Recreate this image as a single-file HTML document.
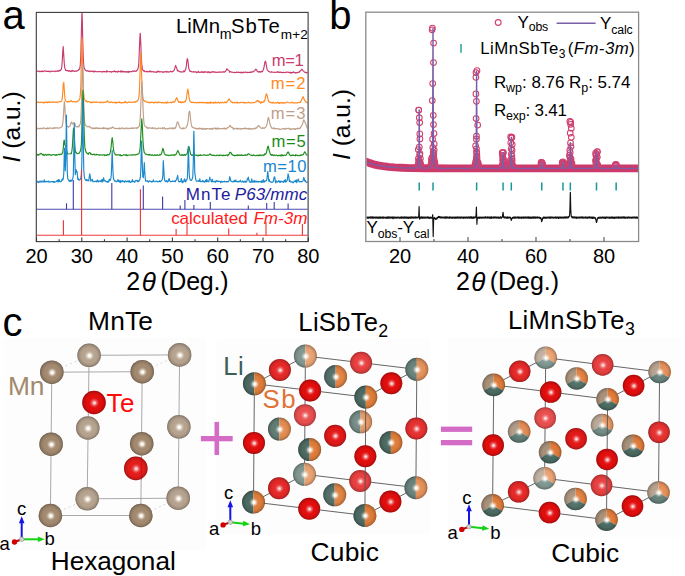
<!DOCTYPE html>
<html><head><meta charset="utf-8"><style>
html,body{margin:0;padding:0;background:#fff;width:685px;height:576px;overflow:hidden}
svg{display:block}
text{font-family:"Liberation Sans", sans-serif}
</style></head><body>
<svg width="685" height="576" viewBox="0 0 685 576">
<defs>
<clipPath id="clipA"><rect x="36.8" y="12.9" width="270.8" height="228.2"/></clipPath>
<clipPath id="clipB"><rect x="366.4" y="12.8" width="271.6" height="228.1"/></clipPath>
<radialGradient id="shade" cx="0.5" cy="0.5" r="0.5" fx="0.52" fy="0.52">
<stop offset="0" stop-color="#fff" stop-opacity="1"/>
<stop offset="0.1" stop-color="#fff" stop-opacity="0.95"/>
<stop offset="0.2" stop-color="#fff6e8" stop-opacity="0.6"/>
<stop offset="0.32" stop-color="#fff" stop-opacity="0.15"/>
<stop offset="0.45" stop-color="#fff" stop-opacity="0"/>
<stop offset="0.64" stop-color="#000" stop-opacity="0"/>
<stop offset="0.86" stop-color="#000" stop-opacity="0.12"/>
<stop offset="0.95" stop-color="#000" stop-opacity="0.24"/>
<stop offset="1" stop-color="#000" stop-opacity="0.32"/>
</radialGradient>
<radialGradient id="shadeTe" cx="0.5" cy="0.5" r="0.5" fx="0.52" fy="0.52">
<stop offset="0" stop-color="#fff" stop-opacity="0.9"/>
<stop offset="0.1" stop-color="#fff" stop-opacity="0.75"/>
<stop offset="0.22" stop-color="#ffe0e0" stop-opacity="0.35"/>
<stop offset="0.36" stop-color="#fff" stop-opacity="0.06"/>
<stop offset="0.46" stop-color="#fff" stop-opacity="0"/>
<stop offset="0.64" stop-color="#000" stop-opacity="0"/>
<stop offset="0.86" stop-color="#000" stop-opacity="0.12"/>
<stop offset="0.95" stop-color="#000" stop-opacity="0.24"/>
<stop offset="1" stop-color="#000" stop-opacity="0.34"/>
</radialGradient>
</defs>
<g clip-path="url(#clipA)">
<path d="M36.3,71.2 L36.8,71.4 L38.3,71.0 L39.3,71.6 L39.8,71.4 L40.3,71.6 L40.8,71.4 L41.8,71.4 L42.3,70.8 L42.8,71.6 L43.8,71.4 L44.3,70.8 L44.8,70.8 L46.3,71.4 L46.8,71.3 L47.3,71.5 L47.8,71.1 L48.3,71.4 L48.8,71.4 L49.3,71.1 L49.8,71.8 L50.3,71.5 L50.8,71.7 L51.3,71.1 L51.8,71.1 L52.8,71.2 L53.3,71.5 L54.8,71.0 L55.3,71.1 L55.8,71.6 L56.3,71.0 L56.8,71.2 L57.3,71.3 L57.8,70.7 L58.8,71.4 L59.3,70.3 L59.8,70.6 L60.3,70.5 L61.3,69.4 L61.8,66.8 L62.3,60.2 L62.8,51.1 L63.2,46.5 L64.3,63.8 L64.8,68.1 L65.8,70.5 L66.3,70.4 L66.8,70.6 L67.3,70.5 L68.3,70.9 L68.8,71.5 L69.3,70.5 L69.8,70.7 L70.8,71.6 L71.3,71.4 L71.8,70.6 L72.3,70.4 L72.8,71.3 L73.3,70.9 L73.8,70.8 L74.3,71.4 L74.8,71.4 L75.3,71.1 L76.3,71.0 L76.8,71.2 L77.3,70.8 L78.3,70.3 L78.8,69.3 L79.3,69.5 L79.8,68.2 L80.3,65.1 L80.8,55.7 L81.8,16.2 L82.0,12.4 L82.3,19.2 L82.8,42.5 L83.3,58.4 L83.8,66.3 L84.3,68.4 L84.8,69.2 L85.3,70.0 L85.8,70.5 L86.3,70.6 L86.8,71.1 L87.3,70.7 L87.8,70.9 L88.3,71.4 L89.3,70.9 L89.8,71.5 L90.3,71.7 L90.8,71.2 L91.3,70.9 L91.8,71.3 L92.8,71.3 L93.3,71.8 L93.8,71.1 L94.3,71.8 L94.8,71.1 L95.3,71.2 L95.8,71.7 L96.3,71.8 L97.8,71.5 L98.8,71.7 L99.3,71.5 L100.3,71.7 L100.8,71.5 L101.3,71.8 L101.8,71.7 L102.3,72.2 L102.8,71.7 L103.3,71.4 L104.3,71.6 L104.8,71.8 L105.3,71.5 L105.8,71.7 L106.3,72.1 L106.8,70.8 L107.8,71.7 L108.8,71.7 L109.3,71.5 L109.8,71.8 L110.8,71.5 L111.3,72.3 L111.8,71.7 L112.3,71.5 L112.8,71.6 L113.8,71.6 L114.3,70.8 L115.3,71.9 L115.8,71.3 L116.8,71.9 L117.3,71.9 L117.8,72.1 L118.3,71.1 L118.8,71.5 L119.3,71.5 L120.3,72.0 L120.8,70.8 L121.3,72.0 L121.8,71.2 L122.3,71.8 L122.8,71.2 L123.8,72.0 L124.3,71.6 L125.3,71.9 L126.3,71.6 L126.8,72.1 L127.3,71.9 L127.8,71.5 L128.3,72.4 L128.8,71.3 L129.3,71.9 L129.8,71.5 L130.8,71.8 L131.3,71.6 L131.8,71.7 L132.3,71.0 L132.8,71.0 L133.3,71.6 L133.8,71.1 L134.8,70.8 L135.3,71.5 L135.8,71.2 L136.3,71.2 L136.8,70.2 L137.3,70.1 L138.3,67.6 L138.8,63.0 L139.8,39.2 L140.2,33.4 L140.3,33.4 L140.8,43.6 L141.3,57.6 L141.8,64.9 L142.3,68.2 L142.8,69.8 L143.8,71.1 L144.3,70.6 L144.8,71.4 L145.3,71.7 L145.8,71.8 L146.3,71.3 L146.8,71.2 L147.3,71.8 L147.8,71.6 L148.3,71.6 L148.8,72.0 L149.8,71.0 L150.3,71.6 L150.8,71.1 L151.3,72.0 L152.3,71.5 L153.3,72.0 L153.8,71.8 L154.3,72.2 L154.8,71.8 L155.3,72.1 L156.3,72.3 L156.8,71.6 L157.3,72.1 L157.8,71.2 L158.3,71.5 L158.8,71.2 L159.3,72.1 L159.8,71.5 L160.3,71.8 L161.3,71.8 L161.8,71.7 L162.3,71.9 L162.8,72.4 L163.3,71.9 L164.3,72.1 L165.3,71.5 L165.8,71.7 L166.3,72.2 L166.8,71.3 L167.8,72.1 L168.3,72.1 L168.8,71.8 L169.3,72.1 L169.8,71.8 L170.3,71.4 L170.8,71.3 L171.8,72.0 L172.3,71.5 L173.3,71.1 L174.3,69.8 L175.7,65.4 L175.8,66.3 L176.3,67.1 L176.8,68.4 L177.3,70.5 L177.8,71.0 L178.3,70.7 L179.3,71.7 L179.8,71.5 L180.3,71.9 L181.8,71.8 L182.3,72.1 L183.3,71.7 L183.8,70.8 L184.3,71.6 L184.8,71.4 L185.8,68.8 L186.3,66.5 L186.8,61.1 L187.3,58.6 L187.4,59.1 L187.8,59.7 L188.8,68.5 L189.8,71.0 L190.3,71.5 L190.8,71.2 L191.3,71.6 L192.3,72.0 L193.8,71.6 L194.8,72.2 L195.8,71.7 L196.3,71.7 L196.8,72.8 L197.3,72.3 L197.8,72.2 L198.3,71.2 L198.8,72.2 L199.3,72.2 L199.8,72.5 L200.3,72.2 L200.8,72.0 L201.3,72.2 L201.8,71.5 L202.3,72.4 L203.3,71.8 L203.8,72.5 L204.3,72.6 L204.8,71.6 L205.8,72.2 L206.3,72.1 L207.3,71.8 L207.8,72.7 L208.3,72.4 L208.8,71.7 L209.3,71.7 L209.8,72.6 L210.3,72.4 L210.8,72.6 L211.8,71.8 L212.3,72.2 L212.8,71.5 L213.3,71.9 L214.3,72.3 L214.8,71.9 L215.8,72.3 L216.8,72.3 L217.8,72.0 L218.3,72.4 L219.3,71.9 L220.3,72.1 L222.3,72.1 L222.8,72.0 L223.3,71.7 L223.8,72.1 L224.3,72.2 L225.8,71.0 L226.8,68.9 L227.2,69.3 L227.3,69.0 L227.8,70.0 L228.8,70.3 L229.8,72.3 L230.3,71.8 L230.8,71.6 L231.8,72.3 L232.8,72.2 L233.3,72.6 L234.3,72.2 L235.3,72.7 L235.8,72.5 L236.3,72.5 L236.8,71.9 L237.8,72.4 L238.3,72.1 L238.8,72.5 L239.3,72.4 L239.8,72.5 L240.3,72.2 L240.8,73.0 L241.8,72.2 L242.3,72.3 L242.8,73.0 L243.3,72.1 L243.8,72.5 L244.3,72.5 L245.3,71.9 L245.8,72.3 L246.3,72.4 L246.8,72.6 L247.8,72.2 L248.3,72.5 L250.3,72.1 L250.8,72.4 L251.3,71.9 L252.3,72.1 L252.8,71.6 L253.3,71.8 L253.8,71.0 L254.3,71.0 L254.8,70.6 L255.8,69.2 L256.8,70.0 L257.3,71.7 L257.8,71.7 L258.3,72.2 L258.8,71.7 L259.3,71.9 L259.8,71.4 L260.3,72.2 L260.8,72.2 L261.3,71.3 L261.8,71.7 L262.3,71.7 L263.3,69.7 L263.8,68.3 L264.8,62.7 L265.3,61.1 L265.4,61.1 L265.8,62.2 L266.8,68.2 L267.3,70.1 L267.8,70.5 L268.3,71.3 L269.3,71.6 L269.8,72.0 L270.8,72.3 L271.3,71.7 L271.8,71.8 L272.3,72.2 L273.8,72.3 L274.3,72.1 L274.8,72.5 L276.3,72.2 L276.8,72.3 L277.3,71.6 L277.8,72.1 L278.3,72.4 L278.8,71.9 L279.3,72.5 L279.8,72.5 L280.3,72.0 L280.8,72.3 L281.3,72.3 L281.8,72.6 L282.3,72.6 L283.3,72.2 L284.8,72.7 L286.3,72.1 L286.8,72.3 L287.8,72.1 L288.3,72.4 L288.8,72.3 L289.8,72.6 L290.3,72.3 L290.8,73.2 L291.3,72.4 L291.8,72.8 L292.3,72.5 L292.8,72.8 L293.3,71.8 L294.3,72.5 L294.8,72.6 L295.3,73.1 L295.8,72.5 L296.3,72.8 L296.8,72.6 L297.3,72.7 L298.3,72.2 L298.8,72.3 L299.3,71.6 L299.8,71.8 L300.3,70.6 L300.8,70.3 L301.3,70.2 L301.8,69.2 L302.3,69.6 L302.8,70.6 L303.8,71.3 L304.3,72.0 L304.8,72.3 L305.3,72.5 L305.8,72.1 L306.3,72.9 L306.8,73.0 L307.3,72.5 L307.8,72.6" fill="none" stroke="#c93a6f" stroke-width="1.15" stroke-linejoin="round" />
<path d="M36.3,102.1 L36.8,102.7 L37.3,102.1 L37.8,102.5 L38.3,102.1 L38.8,102.1 L39.3,102.5 L39.8,102.7 L40.3,102.3 L40.8,102.1 L41.3,102.5 L41.8,102.3 L42.3,102.4 L42.8,102.7 L43.3,102.6 L43.8,102.1 L44.3,103.0 L44.8,102.3 L45.3,102.5 L45.8,102.1 L46.3,102.3 L46.8,101.8 L47.3,102.8 L47.8,102.7 L48.3,101.9 L48.8,101.8 L49.3,101.8 L49.8,102.6 L50.3,102.1 L50.8,102.2 L51.8,102.2 L52.3,101.9 L52.8,102.3 L53.3,101.8 L53.8,102.2 L54.8,102.4 L55.8,101.9 L56.3,102.2 L56.8,102.0 L57.3,102.6 L58.3,102.0 L59.8,101.6 L60.8,101.6 L61.3,101.3 L61.8,100.5 L62.3,98.5 L63.3,84.1 L63.6,82.8 L63.8,82.4 L64.8,97.1 L65.3,100.0 L65.8,101.1 L66.8,101.8 L67.3,101.8 L67.8,102.1 L68.3,101.3 L69.3,101.8 L70.3,101.0 L70.8,101.1 L71.2,100.5 L71.3,100.9 L72.8,101.9 L73.3,101.8 L73.8,101.5 L74.3,101.9 L74.8,102.0 L75.3,101.7 L76.3,101.9 L76.8,101.3 L77.8,101.8 L78.3,100.7 L78.8,100.5 L79.8,98.9 L80.3,95.2 L80.8,86.0 L81.8,41.2 L82.0,38.0 L82.3,44.4 L82.8,70.6 L83.3,88.6 L83.8,95.6 L84.3,99.0 L85.3,100.7 L85.8,101.1 L86.3,100.9 L87.3,102.1 L87.8,101.6 L88.8,101.5 L89.3,101.6 L90.3,102.6 L90.8,102.3 L91.3,102.2 L91.8,102.9 L92.3,102.1 L92.8,102.0 L93.3,102.4 L93.8,102.4 L94.3,102.0 L94.8,101.9 L95.3,102.4 L95.8,102.4 L96.3,101.9 L96.8,102.3 L97.3,102.2 L97.8,102.5 L98.3,102.3 L99.3,102.2 L99.8,102.7 L100.3,102.8 L100.8,102.2 L101.3,102.6 L101.8,102.1 L103.3,102.8 L103.8,102.2 L104.8,102.4 L105.3,101.9 L105.8,102.3 L106.3,101.9 L106.8,101.8 L107.5,100.7 L107.8,101.4 L108.3,101.9 L108.8,102.0 L109.3,102.6 L109.8,102.3 L110.3,102.2 L110.8,102.5 L111.3,101.9 L112.8,102.7 L113.3,102.4 L113.8,102.5 L114.3,102.2 L115.3,102.9 L115.8,102.2 L116.3,103.1 L116.8,102.2 L117.8,102.5 L118.3,102.7 L118.8,102.0 L119.3,101.8 L119.8,102.6 L120.8,102.6 L121.3,103.2 L121.8,102.5 L122.3,102.5 L122.8,102.7 L123.3,102.5 L123.8,102.9 L124.3,102.0 L124.8,102.3 L125.3,101.4 L125.8,102.6 L126.3,102.3 L127.3,103.0 L127.8,102.4 L129.3,102.1 L129.8,102.1 L130.3,102.5 L130.8,102.3 L131.8,102.2 L132.3,102.5 L133.3,102.1 L133.8,102.3 L134.8,101.6 L135.3,102.3 L136.3,101.3 L136.8,101.6 L137.3,101.1 L137.8,100.0 L138.3,100.0 L138.8,97.6 L139.3,92.6 L139.8,81.0 L140.3,63.6 L140.8,52.5 L142.3,92.3 L142.8,97.6 L143.3,99.6 L143.8,100.7 L144.3,100.9 L144.8,101.3 L145.3,100.9 L145.8,101.6 L146.8,102.4 L147.3,102.0 L147.8,102.1 L148.3,102.7 L148.8,102.1 L149.8,102.8 L150.3,102.3 L150.8,102.7 L151.3,102.1 L151.8,102.4 L152.8,102.4 L153.8,103.1 L154.3,102.2 L154.8,102.3 L155.3,102.6 L155.8,102.1 L156.3,102.6 L156.8,102.6 L157.3,102.4 L157.8,102.6 L158.3,102.0 L158.8,102.7 L159.3,102.0 L159.8,102.3 L160.8,102.4 L161.3,102.8 L162.3,102.4 L163.3,103.0 L163.8,102.5 L164.8,102.9 L165.8,102.1 L166.3,103.3 L166.8,103.2 L167.3,101.9 L167.8,102.5 L168.8,102.8 L169.3,102.7 L170.3,102.2 L171.3,102.8 L171.8,102.1 L172.3,102.1 L172.8,102.4 L173.3,101.7 L173.8,102.2 L174.8,101.8 L176.3,98.2 L176.8,97.7 L178.3,101.6 L178.8,102.3 L179.3,101.9 L179.8,102.1 L180.3,101.5 L180.8,102.9 L181.3,102.1 L182.3,102.5 L182.8,101.9 L183.3,102.4 L183.8,102.1 L184.3,101.5 L184.8,102.0 L185.3,101.9 L185.8,100.2 L186.3,99.3 L187.3,91.5 L187.8,89.0 L188.3,91.7 L189.3,99.3 L190.3,101.8 L190.8,101.7 L191.3,102.1 L191.8,102.7 L193.3,102.1 L193.8,102.2 L194.8,102.8 L196.3,102.5 L196.8,103.0 L197.3,102.4 L197.8,102.4 L198.3,102.8 L198.8,102.6 L199.8,102.4 L200.8,102.8 L201.3,102.7 L201.8,102.2 L202.3,102.7 L202.8,102.7 L203.3,102.3 L203.8,102.9 L204.3,102.5 L204.8,102.5 L205.3,102.9 L205.8,103.0 L206.3,102.4 L206.8,102.8 L207.3,102.4 L207.8,103.3 L208.3,102.5 L208.8,103.0 L209.3,102.5 L210.3,103.3 L210.8,101.9 L211.3,102.5 L211.8,102.8 L212.8,102.5 L213.3,103.3 L214.3,102.2 L214.8,102.9 L215.3,102.1 L215.8,103.0 L216.3,102.5 L217.3,103.0 L218.3,102.2 L218.8,102.1 L219.3,103.0 L219.8,102.9 L220.3,102.4 L220.8,102.9 L221.8,102.8 L222.3,102.0 L222.8,102.5 L223.3,102.9 L224.3,102.8 L224.8,101.8 L225.3,102.5 L225.8,102.6 L226.3,103.0 L226.8,101.7 L227.3,101.4 L228.3,100.1 L228.8,99.0 L229.0,99.4 L229.3,99.0 L229.8,100.1 L230.8,101.7 L231.3,101.9 L231.8,101.8 L232.3,102.8 L233.3,102.4 L234.3,102.9 L234.8,102.3 L235.8,102.8 L236.3,102.8 L236.8,102.6 L237.3,102.0 L237.8,103.1 L238.3,102.8 L239.3,102.6 L239.8,102.8 L240.8,102.4 L242.3,102.5 L242.8,102.4 L243.3,102.9 L243.8,102.3 L244.3,102.9 L244.8,102.4 L245.8,103.1 L246.8,102.5 L247.3,102.7 L247.8,102.8 L248.3,102.2 L249.3,102.8 L249.8,102.6 L250.8,102.9 L251.8,103.0 L252.8,102.6 L253.3,102.6 L254.8,102.4 L255.3,101.8 L255.8,102.0 L256.3,101.6 L256.8,100.7 L257.3,100.5 L257.5,100.6 L257.8,100.5 L258.3,101.7 L258.8,100.9 L259.3,102.0 L259.8,101.8 L260.3,102.7 L260.8,103.3 L261.3,101.7 L261.8,102.5 L262.3,102.5 L262.8,102.2 L263.3,102.3 L263.8,101.2 L264.3,101.6 L264.8,100.3 L265.8,95.8 L266.5,93.8 L266.8,94.5 L267.8,98.1 L268.3,100.5 L268.8,101.6 L269.3,102.2 L269.8,102.0 L270.8,102.7 L271.3,102.6 L272.3,103.2 L272.8,102.4 L273.3,102.1 L273.8,102.9 L274.3,103.2 L275.3,103.0 L275.8,102.6 L276.3,102.5 L276.8,103.0 L277.3,102.5 L277.8,102.2 L278.3,102.5 L278.8,103.5 L279.3,103.4 L279.8,102.6 L280.3,102.6 L280.8,102.9 L281.3,102.6 L281.8,103.2 L282.8,102.5 L283.3,103.2 L283.8,102.6 L284.3,102.9 L285.3,102.7 L285.8,102.9 L286.8,102.3 L287.3,102.1 L288.8,102.8 L289.8,103.0 L290.8,102.6 L291.3,102.6 L291.8,102.2 L292.3,102.7 L292.8,102.9 L294.3,102.7 L294.8,103.0 L295.3,102.8 L295.8,103.0 L296.8,102.8 L297.3,103.1 L297.8,102.5 L298.3,102.5 L299.3,102.2 L299.8,102.7 L300.3,102.4 L300.8,101.3 L301.3,100.5 L302.3,98.2 L302.8,97.4 L303.0,96.6 L303.3,97.0 L304.3,99.9 L305.8,101.9 L306.8,102.2 L307.3,103.0 L307.8,102.4" fill="none" stroke="#ff8a22" stroke-width="1.15" stroke-linejoin="round" />
<path d="M36.3,128.3 L36.8,129.0 L38.3,128.1 L39.3,128.8 L39.8,128.5 L40.3,128.7 L40.8,128.3 L41.3,128.4 L41.8,128.2 L42.8,128.7 L43.3,127.8 L43.8,128.2 L44.3,128.3 L44.8,128.1 L45.3,128.2 L46.3,129.0 L46.8,128.5 L47.3,128.4 L47.8,127.7 L48.3,128.9 L48.8,128.3 L49.3,128.2 L49.8,127.9 L50.3,128.2 L50.8,127.9 L51.3,128.3 L51.8,128.4 L52.3,128.2 L52.8,128.3 L53.3,127.9 L53.8,128.7 L54.3,128.0 L54.8,127.5 L55.3,128.1 L56.3,127.8 L57.3,128.2 L57.8,127.6 L58.8,128.4 L59.8,127.7 L60.3,127.7 L61.8,127.0 L62.3,125.8 L62.8,122.7 L63.3,118.2 L63.8,109.0 L64.4,101.5 L64.8,105.6 L65.3,115.7 L65.8,121.4 L66.3,124.7 L66.8,125.9 L67.3,126.0 L67.8,126.4 L68.3,127.3 L68.8,127.0 L69.3,126.4 L70.3,125.7 L70.8,123.6 L71.3,122.2 L71.6,122.0 L72.3,123.7 L72.8,124.2 L73.3,123.6 L73.8,122.6 L74.3,122.7 L74.8,123.4 L75.3,125.4 L75.8,126.5 L76.3,126.9 L76.8,126.9 L77.3,126.6 L77.8,126.8 L78.3,126.2 L78.8,126.8 L79.3,126.1 L79.8,124.7 L80.3,124.0 L80.8,120.0 L81.3,109.3 L82.3,68.9 L82.6,63.6 L82.8,65.1 L83.8,107.1 L84.3,118.5 L84.8,123.2 L85.3,125.3 L85.8,125.4 L86.3,126.0 L87.3,126.8 L88.3,126.9 L89.2,126.4 L89.3,126.1 L89.8,126.6 L90.3,127.6 L90.8,127.9 L91.8,127.9 L92.3,128.6 L92.8,127.9 L93.3,128.4 L93.8,128.6 L94.3,128.1 L94.8,128.5 L95.3,127.8 L95.8,128.6 L96.3,128.3 L96.8,127.7 L97.3,128.5 L97.8,128.0 L98.3,128.8 L98.8,128.1 L99.8,128.4 L100.3,128.2 L100.8,128.4 L101.3,128.2 L101.8,128.6 L102.3,128.4 L102.8,128.4 L103.3,127.4 L103.8,128.8 L104.3,128.4 L104.8,127.8 L105.3,128.4 L106.3,128.8 L106.8,128.0 L107.3,128.9 L107.8,128.3 L108.3,129.2 L108.8,128.3 L109.3,128.6 L110.3,127.8 L110.8,128.4 L111.3,128.1 L111.8,127.9 L112.2,127.5 L112.3,127.0 L112.8,126.9 L113.3,127.7 L113.8,127.9 L114.3,128.0 L114.8,128.6 L115.8,128.3 L116.3,128.5 L116.8,128.4 L118.3,128.8 L118.8,128.2 L119.3,127.9 L119.8,128.9 L120.3,128.5 L120.8,128.8 L121.3,127.9 L121.8,128.3 L122.3,128.4 L122.8,127.9 L123.8,128.7 L124.8,129.0 L125.3,128.1 L125.8,127.9 L126.3,128.6 L126.8,128.7 L127.3,128.5 L127.8,127.9 L128.3,128.7 L128.8,128.7 L129.3,128.6 L129.8,128.2 L130.8,128.6 L131.8,127.6 L132.3,128.4 L132.8,128.4 L133.3,128.2 L133.8,128.5 L134.3,127.9 L134.8,128.0 L135.3,127.9 L136.3,128.4 L136.8,127.6 L137.3,128.2 L137.8,127.8 L139.3,125.9 L139.8,123.0 L140.3,117.9 L141.3,93.1 L141.9,81.7 L142.3,87.3 L143.3,114.6 L143.8,121.0 L144.3,125.0 L144.8,125.8 L145.8,126.8 L146.3,127.1 L146.8,127.9 L147.3,128.2 L147.8,127.4 L148.3,128.3 L148.8,128.4 L149.8,127.7 L150.3,128.0 L150.8,128.1 L151.3,128.4 L151.8,128.2 L152.3,127.6 L152.8,128.5 L153.3,127.9 L153.8,128.7 L154.3,128.0 L154.8,128.2 L155.3,128.1 L155.8,128.3 L156.3,128.9 L157.8,128.6 L158.3,127.9 L158.8,128.3 L159.8,128.2 L160.3,128.7 L160.8,128.2 L161.8,128.1 L162.3,127.7 L162.9,128.9 L164.3,127.5 L164.8,128.6 L165.3,128.9 L165.8,128.6 L166.8,129.0 L167.3,128.9 L167.8,128.4 L168.3,128.9 L168.8,128.8 L169.3,128.0 L169.8,128.3 L170.3,128.0 L170.8,128.4 L171.3,128.7 L171.8,128.1 L172.3,127.7 L172.8,128.8 L173.3,128.4 L173.8,128.8 L174.3,127.7 L174.8,128.3 L175.3,128.3 L175.8,127.4 L177.3,121.8 L177.6,121.8 L177.8,122.0 L178.8,124.5 L179.3,126.7 L179.8,127.2 L180.3,128.0 L180.8,128.1 L181.3,128.7 L181.8,128.6 L182.3,128.0 L183.3,128.8 L183.8,127.9 L184.8,128.4 L185.3,128.3 L185.8,127.9 L186.3,126.9 L187.3,125.4 L188.3,119.7 L188.8,113.7 L189.4,111.0 L189.8,111.7 L190.8,121.4 L191.3,124.4 L191.8,126.3 L192.3,127.4 L192.8,127.4 L193.3,128.0 L193.8,127.8 L194.3,128.0 L194.8,128.4 L195.3,128.1 L196.3,129.0 L196.8,128.5 L197.3,128.4 L197.8,128.8 L198.3,128.4 L198.8,128.9 L199.3,128.1 L199.8,128.8 L200.3,128.4 L200.8,128.3 L201.3,129.2 L201.8,128.3 L202.3,129.2 L202.8,128.9 L203.3,129.1 L203.8,128.3 L204.3,129.1 L204.8,129.2 L205.3,128.6 L205.8,128.6 L206.3,129.5 L206.8,128.7 L207.3,128.5 L207.8,128.5 L208.3,128.8 L209.3,128.7 L209.8,129.3 L210.3,128.6 L211.3,129.2 L211.8,128.3 L212.3,129.1 L212.8,129.3 L213.3,128.2 L214.3,128.3 L214.8,128.1 L215.3,128.9 L215.8,128.1 L216.3,128.9 L216.8,129.2 L217.3,128.1 L217.8,128.6 L218.3,128.0 L218.8,129.0 L219.3,128.5 L220.8,128.9 L221.3,128.6 L221.8,128.7 L222.3,128.5 L222.8,128.7 L223.3,128.3 L223.8,128.7 L224.3,128.0 L224.8,128.5 L225.3,129.3 L226.3,128.1 L226.8,128.6 L227.8,127.5 L228.8,127.2 L230.0,125.3 L230.3,125.4 L230.8,126.8 L231.8,127.4 L232.3,127.4 L232.8,127.9 L233.3,129.4 L233.8,128.2 L234.3,128.6 L234.8,128.7 L235.8,128.6 L236.3,128.2 L236.8,128.4 L237.3,129.3 L237.8,128.5 L238.3,129.0 L238.8,128.2 L239.3,128.7 L240.3,129.1 L240.8,128.4 L241.3,129.0 L241.8,128.9 L242.3,128.5 L242.8,128.9 L243.3,128.5 L243.8,128.5 L244.3,128.8 L244.8,127.8 L245.3,128.7 L246.3,128.3 L247.3,129.0 L247.8,128.6 L248.3,129.2 L248.8,128.4 L249.3,128.3 L249.8,129.3 L250.3,128.9 L250.8,129.1 L251.3,128.5 L251.8,129.0 L252.3,128.8 L252.8,128.9 L253.3,128.7 L253.8,129.1 L254.3,128.4 L255.3,128.0 L255.8,128.8 L256.3,128.0 L257.8,126.5 L258.3,125.6 L258.7,125.8 L258.8,125.7 L259.3,126.1 L259.8,126.6 L260.3,127.5 L260.8,127.8 L261.3,128.2 L262.3,128.5 L262.8,127.6 L263.3,128.2 L263.8,128.0 L264.3,128.5 L264.8,127.5 L265.3,127.5 L265.8,127.1 L266.8,125.0 L268.3,117.6 L268.5,117.3 L269.8,123.1 L270.8,126.7 L271.3,127.0 L271.8,128.3 L272.3,128.0 L272.8,128.7 L273.3,128.5 L273.8,127.8 L274.3,128.1 L274.8,129.0 L275.3,128.6 L275.8,128.6 L276.3,128.8 L276.8,128.6 L277.3,128.6 L277.8,128.8 L278.3,128.8 L278.8,129.3 L279.3,128.8 L279.8,129.5 L280.3,129.4 L280.8,129.4 L281.8,128.9 L282.8,128.8 L283.3,128.6 L283.8,128.8 L284.3,128.6 L284.8,129.4 L286.3,128.2 L286.8,128.8 L287.8,128.5 L288.3,128.5 L288.8,128.1 L289.3,129.1 L289.8,128.8 L290.3,129.8 L290.8,128.8 L291.3,128.8 L291.8,129.3 L292.3,128.9 L292.8,128.9 L293.8,128.6 L294.3,129.3 L294.8,129.1 L295.3,129.4 L295.8,128.6 L296.3,128.7 L296.8,128.4 L297.3,129.0 L297.8,128.1 L298.3,128.7 L299.3,128.8 L299.8,127.8 L300.3,128.2 L300.8,127.1 L301.3,126.4 L301.8,125.1 L302.3,124.6 L302.8,123.1 L303.3,120.8 L303.8,119.8 L304.0,119.9 L304.3,121.1 L304.8,121.7 L305.8,123.9 L306.8,127.2 L307.3,128.2 L307.8,127.9" fill="none" stroke="#bea08a" stroke-width="1.15" stroke-linejoin="round" />
<path d="M36.3,154.7 L36.8,154.8 L37.3,154.4 L37.8,155.2 L38.3,154.5 L38.8,155.1 L39.3,154.2 L39.8,154.0 L40.3,154.0 L40.8,153.3 L41.0,153.7 L41.3,153.6 L41.8,153.7 L42.3,154.6 L42.8,155.0 L43.3,154.3 L43.8,155.4 L44.3,155.1 L44.8,155.1 L45.3,154.4 L45.8,154.7 L46.3,154.8 L46.8,155.3 L47.3,154.5 L47.8,154.7 L48.3,154.3 L48.8,154.9 L49.3,155.0 L49.8,154.4 L51.3,155.4 L52.8,154.6 L53.8,154.7 L54.3,154.9 L54.8,154.9 L55.3,155.4 L56.3,154.5 L56.8,155.3 L58.3,154.6 L58.8,154.2 L59.3,154.4 L59.8,154.9 L60.3,154.3 L60.8,154.1 L61.3,154.3 L61.8,154.1 L62.3,153.5 L62.8,151.8 L63.3,148.0 L63.8,141.6 L64.1,140.4 L64.3,140.2 L64.8,144.3 L65.3,145.9 L65.8,146.0 L66.8,151.5 L67.3,153.5 L67.8,154.0 L70.3,153.7 L70.8,153.4 L71.3,153.7 L71.8,151.4 L72.3,147.5 L73.3,130.3 L73.6,128.1 L73.8,129.3 L74.8,146.5 L75.3,150.4 L75.8,152.7 L76.3,152.4 L76.8,153.4 L77.3,153.6 L78.3,153.6 L79.3,153.0 L79.8,151.8 L80.3,151.3 L80.8,149.0 L81.3,145.3 L81.8,134.0 L82.8,92.9 L83.0,90.3 L83.3,96.7 L84.3,136.9 L84.8,146.9 L85.3,149.8 L86.3,152.5 L87.8,153.7 L88.3,154.4 L88.8,152.9 L89.8,152.4 L90.8,154.2 L91.3,153.8 L91.8,154.5 L92.3,154.5 L92.8,154.8 L93.3,154.3 L94.3,154.1 L94.8,155.0 L95.8,154.9 L96.3,154.2 L96.8,154.8 L97.8,154.5 L98.3,154.7 L98.8,155.1 L99.8,154.9 L100.3,155.1 L100.8,154.8 L101.3,155.0 L101.8,155.0 L102.3,155.1 L102.8,154.9 L103.8,154.9 L104.3,154.7 L104.8,155.6 L105.3,155.0 L105.8,155.0 L106.3,155.5 L106.8,155.2 L107.3,154.3 L107.8,154.9 L108.3,154.8 L108.8,155.0 L109.8,153.9 L110.3,152.2 L110.8,149.7 L111.8,140.2 L112.2,137.6 L112.8,142.0 L113.3,147.5 L113.8,151.3 L114.3,153.0 L114.8,153.6 L115.3,154.7 L115.8,155.0 L116.3,154.6 L116.8,155.0 L117.3,154.9 L118.3,155.0 L118.8,154.7 L119.3,155.1 L119.8,155.3 L120.3,154.7 L120.8,155.6 L122.3,155.6 L123.3,154.9 L124.3,154.8 L124.8,155.1 L125.3,155.0 L125.8,155.3 L126.3,154.4 L126.8,155.7 L127.3,155.7 L127.8,155.0 L128.3,155.3 L129.8,155.0 L130.3,155.0 L130.8,154.8 L131.3,155.1 L131.8,155.0 L132.3,155.1 L132.8,154.7 L133.3,154.9 L134.3,155.0 L134.8,154.5 L135.3,154.9 L135.8,155.0 L136.3,154.8 L136.8,154.4 L137.8,154.1 L138.3,154.0 L138.8,153.8 L139.3,152.4 L139.8,150.3 L140.3,146.0 L141.3,125.4 L141.8,118.9 L142.3,125.6 L142.8,137.4 L143.3,145.5 L143.8,150.2 L144.3,152.6 L144.8,153.0 L145.3,153.9 L145.8,154.3 L146.3,154.3 L146.8,154.2 L147.3,154.6 L147.8,154.6 L148.3,154.9 L148.8,154.6 L149.3,155.2 L149.8,154.4 L150.3,154.9 L150.8,155.0 L151.3,155.3 L151.8,154.8 L152.3,155.2 L152.8,154.9 L153.8,155.6 L154.3,155.0 L154.8,155.2 L155.3,154.8 L155.8,155.4 L156.3,155.5 L157.3,154.7 L157.8,155.2 L158.3,155.4 L158.8,155.3 L159.3,155.2 L159.8,154.4 L160.8,155.0 L161.3,153.6 L161.8,152.9 L162.8,148.4 L163.3,149.1 L164.3,153.5 L164.8,154.3 L165.8,155.1 L166.3,154.9 L167.3,155.2 L167.8,155.1 L168.3,155.7 L168.8,155.3 L170.3,155.0 L170.8,155.6 L171.8,154.8 L172.8,155.1 L173.3,155.0 L173.8,155.4 L174.3,154.7 L174.8,155.2 L175.3,154.9 L175.8,154.3 L176.3,154.1 L177.8,150.6 L178.8,152.5 L179.8,154.9 L180.3,155.2 L181.3,154.9 L181.8,155.4 L182.3,154.5 L183.3,155.3 L183.8,155.3 L184.3,154.7 L184.8,154.4 L185.3,155.4 L186.3,154.3 L186.8,154.1 L187.3,153.2 L187.8,150.0 L188.8,146.5 L189.3,147.3 L189.8,151.0 L190.3,152.4 L190.8,154.5 L191.3,154.7 L191.8,155.5 L192.3,154.8 L193.3,155.4 L193.8,155.0 L195.3,155.2 L195.8,154.9 L196.3,155.4 L196.8,155.4 L197.3,155.3 L197.8,155.8 L198.3,155.2 L198.8,155.7 L199.3,155.1 L199.8,155.5 L200.3,154.7 L200.8,155.4 L201.8,155.2 L202.8,155.2 L203.3,155.1 L203.8,154.7 L204.3,155.1 L205.3,155.1 L205.8,155.0 L206.8,155.5 L207.3,155.2 L207.8,155.0 L208.3,155.4 L209.3,154.6 L209.8,154.3 L209.9,153.9 L210.3,154.1 L210.8,154.9 L211.3,154.8 L212.3,155.4 L212.8,155.4 L213.3,155.2 L213.8,155.6 L214.3,155.3 L215.3,155.7 L216.3,155.6 L216.8,155.0 L217.3,155.0 L218.8,155.8 L219.3,155.0 L219.8,155.5 L220.3,155.1 L220.8,155.1 L221.8,155.6 L222.3,155.4 L222.8,155.7 L223.3,155.0 L223.8,155.6 L224.3,155.6 L224.8,155.3 L225.3,155.4 L226.3,154.9 L226.8,155.1 L227.3,155.0 L227.8,155.9 L228.3,154.6 L228.8,154.7 L229.3,153.4 L229.8,152.5 L230.3,152.2 L230.8,152.2 L231.3,153.6 L231.8,154.3 L232.3,154.3 L232.8,155.2 L233.8,155.4 L234.3,155.8 L234.8,155.2 L235.3,155.5 L235.8,155.6 L236.3,155.1 L236.8,155.7 L237.3,154.9 L237.8,155.0 L238.3,155.5 L238.8,155.1 L239.3,155.4 L239.8,154.9 L240.3,155.4 L240.8,155.1 L241.3,155.5 L241.8,154.9 L242.3,155.5 L242.8,155.3 L244.3,155.4 L245.3,154.6 L245.8,155.4 L246.3,155.0 L247.3,155.1 L247.8,154.0 L248.7,153.8 L248.8,153.7 L249.3,154.4 L249.8,154.7 L250.8,155.0 L251.3,155.6 L251.8,155.2 L252.3,155.6 L252.8,155.5 L253.3,154.8 L254.3,155.4 L255.3,155.6 L256.3,155.7 L256.8,155.3 L257.3,155.3 L257.8,155.6 L258.3,155.3 L258.8,155.7 L259.3,154.9 L259.8,155.6 L260.3,155.3 L260.8,154.8 L261.3,155.6 L262.3,155.3 L262.8,154.9 L263.3,155.1 L263.8,155.6 L264.8,153.9 L265.3,154.4 L266.3,153.1 L267.8,146.5 L268.1,146.6 L268.3,146.1 L268.8,149.0 L270.3,154.2 L270.8,154.8 L271.3,154.6 L271.8,155.3 L272.3,154.6 L272.8,154.9 L273.3,155.6 L274.3,155.0 L274.8,155.5 L275.3,155.7 L275.8,155.4 L276.3,154.9 L276.8,155.3 L277.8,155.7 L278.3,156.0 L278.8,155.4 L279.3,155.3 L279.8,155.4 L280.3,155.8 L280.8,155.2 L281.3,155.8 L281.8,154.6 L282.3,155.7 L282.8,155.2 L283.3,155.6 L283.8,155.6 L284.3,155.0 L284.8,155.3 L285.8,155.4 L286.8,154.0 L287.3,152.7 L287.8,153.0 L288.1,151.9 L288.8,152.6 L289.3,154.4 L289.8,154.7 L290.3,155.6 L291.3,155.4 L291.8,155.6 L292.3,155.1 L292.8,155.4 L293.8,155.1 L294.3,155.5 L294.8,155.5 L295.3,155.9 L295.8,154.5 L296.3,155.3 L296.8,155.2 L297.8,155.6 L298.3,155.6 L299.3,155.3 L299.8,155.6 L300.3,155.6 L300.8,154.9 L301.3,155.3 L301.8,154.9 L302.3,154.8 L302.8,155.0 L303.8,153.6 L304.3,152.4 L304.8,151.9 L304.9,151.7 L306.3,154.6 L306.8,155.1 L307.3,154.9 L307.8,155.2" fill="none" stroke="#1f8e1f" stroke-width="1.15" stroke-linejoin="round" />
<path d="M36.3,178.9 L36.8,181.7 L37.3,182.0 L37.8,181.5 L38.3,182.6 L38.8,181.9 L39.3,182.2 L39.8,181.1 L40.3,182.1 L41.3,181.0 L41.8,182.0 L42.3,181.9 L42.8,181.2 L43.3,181.8 L43.8,181.9 L44.3,179.9 L44.8,182.1 L45.3,181.4 L45.8,181.7 L46.3,181.4 L46.8,181.8 L47.3,181.6 L47.8,181.7 L48.3,180.9 L48.8,182.1 L49.3,181.9 L50.3,181.8 L50.8,181.9 L51.3,181.8 L51.8,181.5 L52.3,181.6 L52.8,182.0 L53.3,181.4 L53.8,182.5 L54.3,181.5 L54.8,182.1 L55.3,181.9 L55.8,181.8 L56.3,181.5 L57.3,180.4 L57.8,181.8 L58.3,179.5 L58.8,181.9 L59.3,179.8 L59.8,181.3 L60.3,181.7 L61.3,181.6 L62.3,178.9 L62.8,180.2 L63.3,178.5 L63.8,173.1 L64.3,152.3 L64.5,148.1 L65.3,170.8 L65.8,157.9 L66.4,115.0 L67.3,172.9 L67.8,178.8 L68.3,179.4 L68.8,180.6 L69.3,181.2 L69.8,180.6 L70.3,181.5 L70.8,179.9 L71.3,181.1 L71.8,180.8 L72.8,178.6 L73.3,175.5 L74.3,123.6 L74.8,156.6 L75.3,174.6 L75.8,171.1 L76.2,169.7 L76.3,170.6 L76.8,172.4 L77.1,171.5 L77.8,179.4 L78.3,178.4 L78.8,180.1 L79.8,180.2 L80.8,177.9 L81.3,174.5 L81.8,164.3 L82.7,99.7 L83.3,144.4 L83.8,170.5 L84.3,176.5 L84.8,179.0 L85.8,180.3 L86.3,180.7 L86.8,179.4 L87.3,180.4 L87.8,180.2 L88.3,181.0 L88.8,180.3 L89.7,173.8 L90.3,176.8 L90.8,181.3 L91.3,180.4 L91.8,180.5 L92.3,179.3 L92.8,181.6 L93.3,181.3 L93.8,181.7 L94.3,181.7 L94.8,181.4 L95.3,181.5 L95.8,181.1 L96.3,181.3 L96.8,181.9 L97.3,180.0 L97.8,181.2 L98.3,181.8 L98.8,180.9 L99.3,181.0 L99.8,181.5 L100.3,181.4 L100.8,181.4 L101.3,179.8 L101.8,181.9 L102.3,179.5 L102.8,181.8 L103.6,177.7 L104.3,180.9 L104.8,180.9 L105.3,180.7 L106.3,181.9 L106.8,181.5 L107.3,181.6 L107.8,182.3 L108.3,181.1 L108.8,181.8 L109.3,179.1 L109.8,180.5 L110.3,180.2 L110.8,178.7 L111.3,175.0 L112.2,150.3 L112.8,167.7 L113.3,177.1 L113.8,179.7 L114.8,181.1 L115.3,180.9 L115.8,181.2 L116.3,181.8 L116.8,181.7 L117.3,181.1 L117.8,179.8 L118.3,181.3 L118.8,180.0 L119.3,181.9 L119.8,181.1 L120.3,182.6 L120.8,180.3 L121.3,181.4 L121.8,181.7 L122.3,181.6 L122.8,180.4 L123.3,181.5 L123.8,181.6 L124.3,181.4 L124.8,182.3 L125.3,180.9 L125.8,181.0 L126.3,181.8 L126.8,181.4 L127.3,181.7 L127.8,180.9 L128.3,181.1 L128.8,182.1 L129.3,180.6 L129.8,181.7 L130.3,182.4 L130.8,182.2 L131.3,181.7 L131.8,182.0 L132.3,179.5 L132.8,181.6 L133.3,181.2 L133.8,181.4 L134.3,182.1 L134.8,182.2 L135.3,180.7 L135.8,180.4 L136.8,180.5 L137.3,181.6 L137.8,180.6 L138.3,181.5 L138.8,181.6 L139.3,180.3 L139.8,179.7 L140.3,177.7 L140.8,170.0 L141.3,148.9 L141.6,141.1 L142.3,165.5 L142.8,176.8 L143.3,177.8 L143.8,172.3 L144.3,162.6 L144.8,172.5 L145.3,179.1 L145.8,181.1 L146.3,181.1 L146.8,181.2 L147.3,180.6 L147.8,181.2 L148.3,182.2 L148.8,181.3 L149.8,180.9 L150.3,181.5 L150.8,181.4 L151.3,181.6 L151.8,182.1 L152.3,181.5 L152.8,181.6 L153.3,179.8 L153.8,181.1 L154.3,181.7 L155.3,181.7 L155.8,181.5 L156.3,181.0 L156.8,181.3 L157.3,181.3 L157.8,182.0 L158.3,181.5 L158.8,181.7 L159.3,181.4 L159.8,180.6 L160.3,181.8 L161.3,180.9 L162.3,179.6 L162.8,175.5 L163.3,160.5 L164.3,178.3 L164.8,180.6 L165.3,181.3 L165.8,181.7 L166.3,180.9 L166.8,180.5 L167.3,182.1 L168.3,181.3 L168.8,179.0 L169.3,178.6 L169.8,181.1 L170.8,181.8 L171.8,181.4 L172.3,181.0 L172.8,181.5 L173.3,181.3 L174.3,181.4 L174.8,180.8 L175.3,181.7 L175.8,180.2 L176.3,180.2 L177.3,176.9 L177.6,175.3 L177.8,176.2 L178.3,180.7 L178.8,181.6 L179.3,181.6 L179.8,181.9 L180.3,181.3 L180.8,181.4 L181.3,178.4 L181.8,181.6 L182.3,182.8 L182.8,181.0 L183.3,182.1 L183.8,181.6 L184.3,179.4 L184.8,178.9 L185.3,181.7 L185.8,181.9 L186.3,180.1 L186.8,180.0 L187.3,178.2 L187.8,168.0 L188.4,146.4 L189.3,175.9 L189.8,178.6 L190.3,180.2 L190.8,180.0 L191.3,180.5 L191.8,179.8 L192.3,178.6 L192.8,176.4 L193.3,162.1 L193.8,132.2 L193.9,131.2 L194.8,173.1 L195.8,179.6 L196.3,181.2 L197.3,181.3 L197.8,181.2 L198.3,180.5 L198.8,181.4 L199.3,181.3 L199.8,178.8 L200.3,181.6 L200.8,181.7 L201.3,181.4 L201.8,181.3 L202.3,181.7 L202.8,180.4 L203.8,182.0 L204.3,181.4 L204.8,182.2 L205.8,180.1 L206.3,181.8 L206.8,179.3 L207.3,181.5 L207.8,181.0 L208.8,181.8 L209.8,177.0 L209.9,178.5 L210.3,179.1 L210.8,179.5 L211.3,181.8 L211.8,181.4 L212.3,179.4 L212.8,181.9 L214.8,181.2 L215.3,182.4 L215.8,181.7 L216.3,180.5 L216.8,180.9 L217.3,181.7 L217.8,181.3 L218.3,181.1 L218.8,181.6 L219.3,181.3 L219.8,181.3 L220.3,181.6 L220.8,182.7 L221.3,181.2 L222.3,182.2 L222.8,181.5 L223.3,181.8 L224.3,181.1 L224.8,181.9 L225.8,181.6 L226.3,181.8 L226.8,181.5 L227.3,182.0 L227.8,181.9 L228.3,181.3 L228.8,181.3 L229.3,179.7 L229.8,176.7 L230.8,180.6 L231.3,181.4 L232.8,181.9 L233.8,181.5 L234.3,180.2 L234.8,181.9 L235.3,181.5 L235.8,180.0 L236.3,181.4 L236.8,181.6 L237.3,181.4 L237.8,181.9 L238.3,181.3 L238.8,182.0 L239.8,181.3 L240.3,180.2 L240.8,181.3 L241.3,182.1 L241.8,181.7 L242.3,181.6 L242.8,180.9 L243.3,181.9 L243.8,182.1 L244.3,181.4 L244.8,182.0 L245.3,181.1 L245.8,182.3 L246.3,181.8 L246.8,181.5 L247.3,178.8 L247.8,179.5 L248.3,177.1 L248.8,180.0 L249.3,181.3 L249.8,182.1 L250.3,181.8 L250.8,182.5 L251.3,181.7 L251.8,178.9 L252.3,182.2 L252.8,181.7 L253.3,182.1 L254.3,180.4 L254.8,182.3 L255.3,181.1 L255.8,181.8 L256.3,181.9 L256.8,181.2 L257.3,181.8 L257.8,181.8 L258.3,181.4 L258.8,182.1 L259.3,181.8 L259.8,181.4 L260.3,181.6 L260.8,181.5 L261.3,182.4 L261.8,180.7 L262.3,182.0 L262.8,182.1 L263.3,179.6 L263.8,182.2 L264.3,181.9 L264.8,180.8 L265.3,181.2 L265.8,181.1 L266.8,179.9 L267.8,171.4 L268.8,181.2 L269.3,179.6 L269.8,181.6 L270.3,181.5 L270.8,182.1 L271.3,182.1 L271.8,182.4 L272.3,182.0 L272.8,182.1 L273.3,181.3 L274.2,176.8 L274.3,177.1 L274.8,177.1 L275.3,181.5 L275.8,182.9 L276.3,180.9 L277.3,182.1 L278.3,181.6 L278.8,180.5 L279.8,182.4 L280.3,181.2 L280.8,182.3 L281.8,181.2 L282.8,181.7 L283.3,182.5 L283.8,181.7 L284.3,180.3 L284.8,181.8 L285.3,179.5 L285.8,182.1 L286.3,181.8 L287.3,180.1 L288.1,173.9 L288.8,176.5 L289.3,181.4 L289.8,180.3 L290.3,181.8 L290.8,182.1 L291.3,181.8 L291.8,182.1 L292.3,181.8 L292.8,182.6 L293.3,182.8 L294.3,181.1 L294.8,181.5 L295.3,180.7 L295.8,182.0 L296.3,179.9 L296.8,182.7 L297.3,181.1 L297.8,180.3 L298.3,179.0 L298.8,181.0 L299.3,181.9 L299.8,181.4 L300.3,181.8 L301.3,181.5 L301.8,181.8 L302.8,181.1 L303.3,180.0 L303.8,177.4 L304.3,178.8 L304.8,181.1 L305.3,180.5 L305.8,181.8 L306.3,182.3 L306.8,182.3 L307.3,182.1 L307.8,182.4" fill="none" stroke="#1a88cc" stroke-width="1.15" stroke-linejoin="round" />
<line x1="36.3" y1="209.2" x2="308.1" y2="209.2" stroke="#4b4bb0" stroke-width="1.1"/>
<line x1="66.50" y1="209.2" x2="66.50" y2="203.2" stroke="#3a3aa8" stroke-width="1.1"/>
<line x1="73.30" y1="209.2" x2="73.30" y2="180" stroke="#3a3aa8" stroke-width="1.1"/>
<line x1="111.80" y1="209.2" x2="111.80" y2="183" stroke="#3a3aa8" stroke-width="1.1"/>
<line x1="143.30" y1="209.2" x2="143.30" y2="185.6" stroke="#3a3aa8" stroke-width="1.1"/>
<line x1="162.60" y1="209.2" x2="162.60" y2="196.4" stroke="#3a3aa8" stroke-width="1.1"/>
<line x1="180.20" y1="209.2" x2="180.20" y2="205.5" stroke="#3a3aa8" stroke-width="1.1"/>
<line x1="184.90" y1="209.2" x2="184.90" y2="200" stroke="#3a3aa8" stroke-width="1.1"/>
<line x1="193.90" y1="209.2" x2="193.90" y2="205" stroke="#3a3aa8" stroke-width="1.1"/>
<line x1="210.30" y1="209.2" x2="210.30" y2="201.9" stroke="#3a3aa8" stroke-width="1.1"/>
<line x1="248.30" y1="209.2" x2="248.30" y2="205.5" stroke="#3a3aa8" stroke-width="1.1"/>
<line x1="266.70" y1="209.2" x2="266.70" y2="202.9" stroke="#3a3aa8" stroke-width="1.1"/>
<line x1="274.20" y1="209.2" x2="274.20" y2="201.9" stroke="#3a3aa8" stroke-width="1.1"/>
<line x1="288.10" y1="209.2" x2="288.10" y2="203.5" stroke="#3a3aa8" stroke-width="1.1"/>
<line x1="36.3" y1="235.3" x2="308.1" y2="235.3" stroke="#f03a3a" stroke-width="1.1"/>
<line x1="63.40" y1="235.3" x2="63.40" y2="220.2" stroke="#f03030" stroke-width="1.1"/>
<line x1="81.60" y1="235.3" x2="81.60" y2="169.4" stroke="#f03030" stroke-width="1.1"/>
<line x1="140.40" y1="235.3" x2="140.40" y2="189.2" stroke="#f03030" stroke-width="1.1"/>
<line x1="176.10" y1="235.3" x2="176.10" y2="229" stroke="#f03030" stroke-width="1.1"/>
<line x1="187.00" y1="235.3" x2="187.00" y2="224" stroke="#f03030" stroke-width="1.1"/>
<line x1="228.70" y1="235.3" x2="228.70" y2="228.4" stroke="#f03030" stroke-width="1.1"/>
<line x1="256.90" y1="235.3" x2="256.90" y2="232.7" stroke="#f03030" stroke-width="1.1"/>
<line x1="266.00" y1="235.3" x2="266.00" y2="221.9" stroke="#f03030" stroke-width="1.1"/>
<line x1="302.40" y1="235.3" x2="302.40" y2="224" stroke="#f03030" stroke-width="1.1"/>
</g>
<rect x="36.3" y="12.4" width="271.8" height="229.2" fill="none" stroke="#3a3a3a" stroke-width="1.1"/>
<line x1="36.50" y1="241.6" x2="36.50" y2="237.4" stroke="#3a3a3a" stroke-width="1.1"/>
<text x="36.50" y="263" font-size="20" text-anchor="middle">20</text>
<line x1="59.15" y1="241.6" x2="59.15" y2="239.3" stroke="#3a3a3a" stroke-width="1.1"/>
<line x1="81.80" y1="241.6" x2="81.80" y2="237.4" stroke="#3a3a3a" stroke-width="1.1"/>
<text x="81.80" y="263" font-size="20" text-anchor="middle">30</text>
<line x1="104.45" y1="241.6" x2="104.45" y2="239.3" stroke="#3a3a3a" stroke-width="1.1"/>
<line x1="127.10" y1="241.6" x2="127.10" y2="237.4" stroke="#3a3a3a" stroke-width="1.1"/>
<text x="127.10" y="263" font-size="20" text-anchor="middle">40</text>
<line x1="149.75" y1="241.6" x2="149.75" y2="239.3" stroke="#3a3a3a" stroke-width="1.1"/>
<line x1="172.40" y1="241.6" x2="172.40" y2="237.4" stroke="#3a3a3a" stroke-width="1.1"/>
<text x="172.40" y="263" font-size="20" text-anchor="middle">50</text>
<line x1="195.05" y1="241.6" x2="195.05" y2="239.3" stroke="#3a3a3a" stroke-width="1.1"/>
<line x1="217.70" y1="241.6" x2="217.70" y2="237.4" stroke="#3a3a3a" stroke-width="1.1"/>
<text x="217.70" y="263" font-size="20" text-anchor="middle">60</text>
<line x1="240.35" y1="241.6" x2="240.35" y2="239.3" stroke="#3a3a3a" stroke-width="1.1"/>
<line x1="263.00" y1="241.6" x2="263.00" y2="237.4" stroke="#3a3a3a" stroke-width="1.1"/>
<text x="263.00" y="263" font-size="20" text-anchor="middle">70</text>
<line x1="285.65" y1="241.6" x2="285.65" y2="239.3" stroke="#3a3a3a" stroke-width="1.1"/>
<line x1="308.30" y1="241.6" x2="308.30" y2="237.4" stroke="#3a3a3a" stroke-width="1.1"/>
<text x="308.30" y="263" font-size="20" text-anchor="middle">80</text>
<text x="2.5" y="29.3" font-size="40">a</text>
<text id="title1" x="176.00" y="33.3" font-size="20.3" textLength="44.07" lengthAdjust="spacing" >LiMn</text>
<text id="title2" x="219.72" y="38.5" font-size="14.2" textLength="13.43" lengthAdjust="spacing" >m</text>
<text id="title3" x="231.04" y="33.3" font-size="20.3" textLength="48.70" lengthAdjust="spacing" >SbTe</text>
<text id="title4" x="280.86" y="38.5" font-size="13.6" textLength="26.93" lengthAdjust="spacing" >m+2</text>
<text id="m1" x="271.74" y="65.8" font-size="16.6" textLength="31.90" lengthAdjust="spacing" fill="#c93a6f">m=1</text>
<text id="m2" x="270.77" y="88.7" font-size="16.6" textLength="34.81" lengthAdjust="spacing" fill="#ff8a22">m=2</text>
<text id="m3" x="270.85" y="118.8" font-size="16.6" textLength="34.58" lengthAdjust="spacing" fill="#bea08a">m=3</text>
<text id="m5" x="271.60" y="147.0" font-size="16.6" textLength="34.12" lengthAdjust="spacing" fill="#1a8c1a">m=5</text>
<text id="m10" x="262.90" y="171.7" font-size="16.6" textLength="43.62" lengthAdjust="spacing" fill="#1a86cc">m=10</text>
<text id="mnte1" x="185.83" y="199.7" font-size="17" textLength="44.75" lengthAdjust="spacing" fill="#1c1ca0">MnTe</text>
<text id="mnte2" x="234.67" y="199.7" font-size="17" textLength="72.68" lengthAdjust="spacing" fill="#1c1ca0" font-style="italic">P63/mmc</text>
<text id="calc1" x="171.13" y="223.6" font-size="17" textLength="76.55" lengthAdjust="spacing" fill="#ff1a1a">calculated</text>
<text id="calc2" x="253.39" y="223.6" font-size="17" textLength="53.99" lengthAdjust="spacing" fill="#ff1a1a" font-style="italic">Fm-3m</text>
<text id="xa2" x="126.13" y="290.2" font-size="25" textLength="18.86" lengthAdjust="spacing" >2</text>
<text id="xath" x="141.84" y="291.0" font-size="26" textLength="16.11" lengthAdjust="spacing" font-style="italic">θ</text>
<text id="xadeg" x="160.17" y="290.2" font-size="25" textLength="68.42" lengthAdjust="spacing" >(Deg.)</text>
<text transform="translate(19.6,162.4) rotate(-90)" font-size="24.6" textLength="71" lengthAdjust="spacing"><tspan font-style="italic">I</tspan> (a.u.)</text>
<g clip-path="url(#clipB)">
<path d="M366.0,161.6 L369.7,163.1 L373.6,164.3 L378.1,165.4 L383.0,166.2 L388.4,166.9 L394.6,167.4 L401.7,167.8 L410.0,168.1 L426.4,168.3 L451.3,168.4 L638.0,168.4" fill="none" stroke="#cc3a6c" stroke-width="7.9" stroke-linejoin="round" stroke-linecap="round"/>
<g fill="none" stroke="#d0416f" stroke-width="1.05"><circle cx="417.6" cy="165.5" r="2.85"/><circle cx="419.0" cy="165.7" r="2.85"/><circle cx="418.9" cy="164.3" r="2.85"/><circle cx="419.1" cy="163.9" r="2.85"/><circle cx="418.5" cy="162.4" r="2.85"/><circle cx="419.3" cy="161.4" r="2.85"/><circle cx="418.4" cy="158.6" r="2.85"/><circle cx="419.7" cy="155.1" r="2.85"/><circle cx="418.3" cy="149.6" r="2.85"/><circle cx="419.9" cy="138.9" r="2.85"/><circle cx="419.7" cy="122.5" r="2.85"/><circle cx="418.7" cy="110.1" r="2.85"/><circle cx="418.7" cy="110.0" r="2.85"/><circle cx="419.3" cy="117.7" r="2.85"/><circle cx="419.8" cy="133.9" r="2.85"/><circle cx="419.3" cy="147.0" r="2.85"/><circle cx="419.9" cy="153.7" r="2.85"/><circle cx="420.4" cy="158.5" r="2.85"/><circle cx="419.0" cy="160.5" r="2.85"/><circle cx="420.1" cy="162.5" r="2.85"/><circle cx="420.1" cy="163.2" r="2.85"/><circle cx="420.6" cy="164.3" r="2.85"/><circle cx="420.0" cy="164.9" r="2.85"/><circle cx="419.3" cy="165.9" r="2.85"/><circle cx="431.3" cy="166.1" r="2.85"/><circle cx="431.7" cy="165.2" r="2.85"/><circle cx="431.1" cy="165.2" r="2.85"/><circle cx="431.4" cy="165.0" r="2.85"/><circle cx="431.4" cy="163.9" r="2.85"/><circle cx="431.1" cy="163.6" r="2.85"/><circle cx="431.9" cy="163.4" r="2.85"/><circle cx="432.3" cy="162.2" r="2.85"/><circle cx="432.5" cy="160.9" r="2.85"/><circle cx="431.4" cy="159.7" r="2.85"/><circle cx="431.9" cy="157.7" r="2.85"/><circle cx="433.2" cy="155.3" r="2.85"/><circle cx="433.2" cy="152.3" r="2.85"/><circle cx="432.8" cy="147.5" r="2.85"/><circle cx="432.6" cy="139.2" r="2.85"/><circle cx="433.5" cy="124.5" r="2.85"/><circle cx="432.3" cy="100.5" r="2.85"/><circle cx="433.5" cy="62.6" r="2.85"/><circle cx="432.1" cy="29.8" r="2.85"/><circle cx="432.4" cy="28.1" r="2.85"/><circle cx="433.6" cy="43.1" r="2.85"/><circle cx="432.7" cy="83.5" r="2.85"/><circle cx="433.3" cy="115.3" r="2.85"/><circle cx="434.0" cy="133.5" r="2.85"/><circle cx="434.2" cy="144.0" r="2.85"/><circle cx="434.2" cy="150.0" r="2.85"/><circle cx="433.8" cy="153.9" r="2.85"/><circle cx="433.6" cy="157.1" r="2.85"/><circle cx="434.0" cy="158.8" r="2.85"/><circle cx="434.1" cy="160.2" r="2.85"/><circle cx="434.2" cy="161.9" r="2.85"/><circle cx="434.7" cy="162.3" r="2.85"/><circle cx="434.9" cy="163.4" r="2.85"/><circle cx="433.4" cy="164.2" r="2.85"/><circle cx="434.4" cy="164.1" r="2.85"/><circle cx="434.2" cy="165.0" r="2.85"/><circle cx="434.8" cy="164.7" r="2.85"/><circle cx="435.0" cy="165.9" r="2.85"/><circle cx="474.6" cy="165.9" r="2.85"/><circle cx="476.1" cy="165.6" r="2.85"/><circle cx="475.6" cy="165.0" r="2.85"/><circle cx="475.6" cy="164.9" r="2.85"/><circle cx="476.0" cy="164.2" r="2.85"/><circle cx="475.9" cy="163.3" r="2.85"/><circle cx="475.4" cy="163.1" r="2.85"/><circle cx="475.9" cy="160.8" r="2.85"/><circle cx="476.2" cy="160.5" r="2.85"/><circle cx="476.5" cy="158.1" r="2.85"/><circle cx="476.9" cy="155.5" r="2.85"/><circle cx="476.5" cy="152.0" r="2.85"/><circle cx="475.6" cy="145.9" r="2.85"/><circle cx="476.5" cy="136.2" r="2.85"/><circle cx="476.1" cy="118.5" r="2.85"/><circle cx="475.9" cy="93.9" r="2.85"/><circle cx="476.0" cy="72.6" r="2.85"/><circle cx="477.0" cy="70.6" r="2.85"/><circle cx="475.9" cy="77.3" r="2.85"/><circle cx="476.4" cy="101.3" r="2.85"/><circle cx="477.7" cy="125.1" r="2.85"/><circle cx="476.4" cy="139.2" r="2.85"/><circle cx="476.5" cy="148.8" r="2.85"/><circle cx="476.8" cy="153.1" r="2.85"/><circle cx="476.7" cy="156.6" r="2.85"/><circle cx="477.1" cy="158.3" r="2.85"/><circle cx="476.9" cy="161.0" r="2.85"/><circle cx="476.9" cy="162.1" r="2.85"/><circle cx="478.1" cy="162.6" r="2.85"/><circle cx="477.9" cy="163.7" r="2.85"/><circle cx="477.1" cy="164.0" r="2.85"/><circle cx="478.2" cy="164.4" r="2.85"/><circle cx="478.2" cy="165.3" r="2.85"/><circle cx="478.4" cy="165.5" r="2.85"/><circle cx="478.8" cy="166.2" r="2.85"/><circle cx="502.6" cy="165.5" r="2.85"/><circle cx="502.2" cy="165.2" r="2.85"/><circle cx="503.2" cy="164.1" r="2.85"/><circle cx="502.9" cy="161.9" r="2.85"/><circle cx="502.6" cy="159.4" r="2.85"/><circle cx="502.5" cy="155.8" r="2.85"/><circle cx="502.2" cy="152.6" r="2.85"/><circle cx="503.4" cy="152.4" r="2.85"/><circle cx="502.9" cy="152.9" r="2.85"/><circle cx="502.8" cy="155.3" r="2.85"/><circle cx="503.5" cy="159.2" r="2.85"/><circle cx="503.7" cy="161.4" r="2.85"/><circle cx="503.9" cy="162.8" r="2.85"/><circle cx="504.0" cy="165.1" r="2.85"/><circle cx="503.3" cy="165.1" r="2.85"/><circle cx="510.1" cy="166.0" r="2.85"/><circle cx="509.9" cy="165.4" r="2.85"/><circle cx="510.6" cy="164.3" r="2.85"/><circle cx="511.0" cy="163.9" r="2.85"/><circle cx="510.5" cy="162.5" r="2.85"/><circle cx="510.1" cy="160.6" r="2.85"/><circle cx="511.6" cy="158.5" r="2.85"/><circle cx="511.3" cy="154.2" r="2.85"/><circle cx="511.2" cy="148.8" r="2.85"/><circle cx="510.8" cy="142.7" r="2.85"/><circle cx="511.9" cy="137.2" r="2.85"/><circle cx="510.7" cy="136.9" r="2.85"/><circle cx="511.4" cy="138.1" r="2.85"/><circle cx="512.2" cy="144.6" r="2.85"/><circle cx="512.1" cy="150.3" r="2.85"/><circle cx="511.9" cy="155.8" r="2.85"/><circle cx="512.1" cy="159.1" r="2.85"/><circle cx="512.1" cy="161.3" r="2.85"/><circle cx="511.1" cy="162.8" r="2.85"/><circle cx="512.1" cy="164.1" r="2.85"/><circle cx="511.5" cy="164.5" r="2.85"/><circle cx="511.6" cy="165.7" r="2.85"/><circle cx="513.1" cy="166.0" r="2.85"/><circle cx="542.0" cy="165.4" r="2.85"/><circle cx="540.8" cy="165.1" r="2.85"/><circle cx="542.2" cy="163.6" r="2.85"/><circle cx="541.9" cy="162.7" r="2.85"/><circle cx="541.1" cy="162.4" r="2.85"/><circle cx="541.7" cy="162.5" r="2.85"/><circle cx="542.0" cy="163.1" r="2.85"/><circle cx="542.5" cy="164.1" r="2.85"/><circle cx="541.3" cy="165.3" r="2.85"/><circle cx="562.4" cy="165.7" r="2.85"/><circle cx="562.5" cy="164.0" r="2.85"/><circle cx="563.4" cy="163.0" r="2.85"/><circle cx="562.4" cy="162.7" r="2.85"/><circle cx="563.0" cy="161.9" r="2.85"/><circle cx="562.2" cy="162.5" r="2.85"/><circle cx="563.1" cy="163.3" r="2.85"/><circle cx="563.1" cy="164.9" r="2.85"/><circle cx="563.7" cy="165.6" r="2.85"/><circle cx="569.3" cy="165.5" r="2.85"/><circle cx="569.4" cy="165.7" r="2.85"/><circle cx="568.8" cy="165.7" r="2.85"/><circle cx="570.0" cy="163.8" r="2.85"/><circle cx="570.3" cy="163.4" r="2.85"/><circle cx="568.8" cy="163.8" r="2.85"/><circle cx="569.6" cy="162.2" r="2.85"/><circle cx="570.1" cy="160.7" r="2.85"/><circle cx="570.2" cy="158.1" r="2.85"/><circle cx="569.4" cy="155.1" r="2.85"/><circle cx="569.8" cy="150.0" r="2.85"/><circle cx="570.5" cy="142.9" r="2.85"/><circle cx="570.2" cy="133.1" r="2.85"/><circle cx="570.6" cy="124.3" r="2.85"/><circle cx="569.8" cy="121.4" r="2.85"/><circle cx="570.7" cy="122.2" r="2.85"/><circle cx="571.3" cy="128.2" r="2.85"/><circle cx="571.3" cy="137.3" r="2.85"/><circle cx="571.0" cy="146.5" r="2.85"/><circle cx="570.2" cy="152.6" r="2.85"/><circle cx="569.9" cy="157.1" r="2.85"/><circle cx="571.1" cy="159.1" r="2.85"/><circle cx="570.5" cy="161.1" r="2.85"/><circle cx="571.3" cy="162.7" r="2.85"/><circle cx="572.0" cy="163.4" r="2.85"/><circle cx="570.6" cy="164.3" r="2.85"/><circle cx="571.0" cy="165.2" r="2.85"/><circle cx="571.3" cy="164.9" r="2.85"/><circle cx="570.7" cy="165.8" r="2.85"/><circle cx="596.3" cy="165.8" r="2.85"/><circle cx="595.9" cy="165.7" r="2.85"/><circle cx="596.5" cy="164.1" r="2.85"/><circle cx="596.1" cy="162.9" r="2.85"/><circle cx="595.5" cy="160.8" r="2.85"/><circle cx="596.4" cy="158.2" r="2.85"/><circle cx="595.9" cy="155.4" r="2.85"/><circle cx="595.6" cy="153.2" r="2.85"/><circle cx="597.3" cy="151.8" r="2.85"/><circle cx="597.4" cy="151.7" r="2.85"/><circle cx="596.4" cy="154.1" r="2.85"/><circle cx="597.3" cy="157.0" r="2.85"/><circle cx="595.9" cy="159.6" r="2.85"/><circle cx="596.3" cy="161.7" r="2.85"/><circle cx="596.1" cy="163.4" r="2.85"/><circle cx="597.6" cy="164.7" r="2.85"/><circle cx="596.3" cy="165.1" r="2.85"/><circle cx="597.9" cy="165.8" r="2.85"/><circle cx="615.6" cy="165.8" r="2.85"/><circle cx="616.2" cy="165.5" r="2.85"/><circle cx="616.3" cy="164.5" r="2.85"/><circle cx="615.6" cy="164.6" r="2.85"/><circle cx="615.9" cy="165.2" r="2.85"/><circle cx="615.5" cy="164.7" r="2.85"/><circle cx="615.8" cy="165.2" r="2.85"/><circle cx="616.3" cy="165.5" r="2.85"/></g>
<path d="M366.0,161.6 L370.5,163.4 L375.5,164.8 L381.0,165.9 L387.4,166.8 L397.4,167.6 L409.8,168.0 L415.5,168.0 L416.8,167.7 L417.5,167.3 L418.1,166.4 L418.4,164.9 L418.8,158.7 L419.0,148.0 L419.2,110.0 L419.6,156.2 L419.8,162.6 L420.2,165.7 L420.6,166.8 L421.1,167.5 L422.0,167.9 L423.4,168.1 L426.8,168.1 L429.1,167.9 L430.4,167.4 L431.2,166.4 L431.8,164.5 L432.1,161.0 L432.4,154.9 L432.6,146.0 L433.0,28.5 L433.3,119.8 L433.5,150.1 L433.7,158.5 L434.1,163.5 L434.7,166.1 L435.1,166.9 L435.7,167.5 L436.4,167.8 L437.5,168.1 L441.3,168.3 L455.4,168.4 L469.2,168.3 L471.8,168.2 L473.4,167.9 L474.4,167.4 L475.0,166.4 L475.5,164.7 L475.8,161.5 L476.2,150.1 L476.6,70.9 L476.9,137.0 L477.1,155.4 L477.4,161.1 L477.8,164.7 L478.3,166.6 L478.7,167.2 L479.2,167.6 L480.1,168.0 L481.4,168.2 L486.7,168.4 L498.7,168.3 L500.5,168.2 L501.5,167.9 L501.9,167.5 L502.2,167.0 L502.6,165.0 L503.1,152.6 L503.5,163.7 L503.7,165.9 L504.0,167.0 L504.2,167.5 L504.6,167.8 L505.9,168.2 L508.3,168.1 L509.0,167.9 L509.6,167.5 L510.0,166.9 L510.4,165.9 L510.8,162.3 L511.3,137.3 L511.7,158.0 L511.9,163.8 L512.2,165.8 L512.6,167.0 L513.2,167.7 L514.1,168.1 L516.3,168.3 L521.4,168.4 L536.5,168.4 L540.0,168.2 L540.8,167.9 L541.2,167.1 L541.7,162.4 L542.3,167.2 L542.7,167.9 L543.5,168.2 L546.3,168.4 L555.8,168.4 L559.8,168.4 L561.4,168.2 L562.1,167.8 L562.4,167.1 L563.0,162.4 L563.4,166.5 L563.6,167.3 L563.9,167.8 L564.5,168.1 L565.5,168.2 L567.1,168.2 L568.2,167.9 L568.8,167.5 L569.3,166.8 L569.6,165.6 L569.8,163.9 L570.0,158.3 L570.3,142.8 L570.6,158.6 L570.9,164.0 L571.1,165.6 L571.4,166.9 L571.9,167.6 L572.5,168.0 L573.8,168.2 L575.9,168.4 L588.6,168.4 L593.1,168.3 L594.1,168.1 L594.8,167.8 L595.3,167.4 L595.6,166.8 L595.9,164.9 L596.5,152.1 L596.9,161.9 L597.1,165.3 L597.3,166.4 L597.6,167.1 L598.0,167.7 L598.5,168.0 L599.9,168.3 L602.8,168.4 L611.6,168.4 L614.4,168.2 L615.1,168.0 L615.5,167.5 L616.1,164.6 L616.8,167.6 L617.2,168.0 L618.0,168.3 L621.5,168.4 L638.0,168.4" fill="none" stroke="#7b5ea6" stroke-width="1.4" stroke-linejoin="round" />
<line x1="419.22" y1="182.5" x2="419.22" y2="190.6" stroke="#1a9898" stroke-width="1.5"/>
<line x1="433.00" y1="182.5" x2="433.00" y2="190.6" stroke="#1a9898" stroke-width="1.5"/>
<line x1="476.62" y1="182.5" x2="476.62" y2="190.6" stroke="#1a9898" stroke-width="1.5"/>
<line x1="503.07" y1="182.5" x2="503.07" y2="190.6" stroke="#1a9898" stroke-width="1.5"/>
<line x1="511.30" y1="182.5" x2="511.30" y2="190.6" stroke="#1a9898" stroke-width="1.5"/>
<line x1="541.76" y1="182.5" x2="541.76" y2="190.6" stroke="#1a9898" stroke-width="1.5"/>
<line x1="562.98" y1="182.5" x2="562.98" y2="190.6" stroke="#1a9898" stroke-width="1.5"/>
<line x1="570.32" y1="182.5" x2="570.32" y2="190.6" stroke="#1a9898" stroke-width="1.5"/>
<line x1="596.50" y1="182.5" x2="596.50" y2="190.6" stroke="#1a9898" stroke-width="1.5"/>
<line x1="616.15" y1="182.5" x2="616.15" y2="190.6" stroke="#1a9898" stroke-width="1.5"/>
<path d="M366.0,217.4 L366.0,217.5 L366.1,217.3 L366.1,218.0 L366.2,217.3 L366.3,217.8 L366.4,217.3 L366.5,217.9 L366.5,217.4 L366.6,217.8 L366.7,217.3 L366.7,217.9 L366.8,217.3 L366.9,218.2 L367.0,217.5 L367.1,217.8 L367.2,217.1 L367.5,218.1 L367.6,217.4 L367.7,217.7 L367.8,217.1 L367.9,217.8 L367.9,217.3 L367.9,217.7 L368.0,217.4 L368.1,217.9 L368.2,217.5 L368.3,218.0 L368.3,217.6 L368.3,218.1 L368.4,217.3 L368.6,218.1 L368.7,217.4 L368.8,217.9 L368.9,217.2 L369.0,218.0 L369.0,217.8 L369.1,218.0 L369.1,217.5 L369.3,217.9 L369.3,217.4 L369.4,217.7 L369.4,217.3 L369.5,218.0 L369.6,217.1 L369.7,218.0 L369.8,217.4 L369.9,217.9 L370.0,217.4 L370.1,217.8 L370.2,216.9 L370.2,217.8 L370.4,217.1 L370.4,218.0 L370.4,217.6 L370.5,217.8 L370.5,217.6 L370.6,218.1 L370.8,217.2 L370.8,217.9 L370.8,217.3 L370.9,217.7 L371.1,217.0 L371.2,217.9 L371.2,217.3 L371.3,217.8 L371.3,217.5 L371.3,217.9 L371.4,217.4 L371.5,217.8 L371.6,217.6 L371.6,218.0 L371.7,217.2 L371.8,217.7 L371.8,217.2 L371.9,217.6 L371.9,217.4 L372.0,217.7 L372.1,217.4 L372.1,217.6 L372.1,218.2 L372.2,217.4 L372.3,217.3 L372.3,217.5 L372.3,217.4 L372.4,217.8 L372.6,216.9 L372.6,217.6 L372.7,217.4 L372.8,217.8 L372.8,217.3 L372.9,217.8 L372.9,217.2 L373.0,218.1 L373.0,217.3 L373.1,218.0 L373.2,217.7 L373.2,218.1 L373.3,217.2 L373.4,218.1 L373.5,217.3 L373.6,218.2 L373.7,217.3 L373.8,217.8 L373.8,217.4 L373.9,217.7 L374.0,217.5 L374.0,217.8 L374.0,217.5 L374.1,217.5 L374.1,217.6 L374.2,217.4 L374.2,217.8 L374.4,217.3 L374.4,217.9 L374.5,217.6 L374.6,217.8 L374.6,217.4 L374.6,217.9 L374.7,217.1 L374.7,218.0 L374.8,217.4 L374.9,217.9 L375.0,217.5 L375.1,217.8 L375.2,217.5 L375.3,217.8 L375.3,217.0 L375.4,217.7 L375.5,217.6 L375.5,218.0 L375.6,217.1 L375.6,218.1 L375.7,217.5 L375.7,218.1 L375.8,217.4 L375.9,218.0 L376.0,217.5 L376.0,218.2 L376.0,217.2 L376.1,217.8 L376.3,217.4 L376.3,218.1 L376.4,217.4 L376.4,218.0 L376.6,217.2 L376.6,217.7 L376.7,217.3 L376.8,217.8 L376.9,217.0 L377.0,218.0 L377.1,217.2 L377.3,217.9 L377.4,217.3 L377.5,217.8 L377.5,217.5 L377.6,217.8 L377.7,217.3 L377.7,217.9 L377.8,217.5 L377.8,217.9 L377.8,217.6 L377.9,218.1 L377.9,217.9 L378.0,218.5 L378.0,217.4 L378.1,217.8 L378.1,217.4 L378.2,217.7 L378.3,217.5 L378.3,217.7 L378.5,217.3 L378.5,217.7 L378.6,217.5 L378.8,217.8 L378.8,217.1 L379.0,217.9 L379.0,217.4 L379.1,217.9 L379.1,217.4 L379.2,218.0 L379.2,217.1 L379.3,218.2 L379.3,217.5 L379.4,217.7 L379.4,217.5 L379.4,217.8 L379.5,217.4 L379.5,218.2 L379.6,217.1 L379.7,217.7 L379.7,217.3 L379.9,218.0 L379.9,217.2 L380.0,218.1 L380.0,217.2 L380.1,217.9 L380.1,217.4 L380.2,217.9 L380.3,217.4 L380.3,217.8 L380.5,217.3 L380.6,217.7 L380.7,217.2 L380.7,217.7 L380.8,217.3 L380.8,218.2 L380.9,217.0 L381.1,218.1 L381.1,217.5 L381.2,218.0 L381.2,217.4 L381.2,217.9 L381.3,217.5 L381.4,217.8 L381.4,217.6 L381.5,217.8 L381.6,217.1 L381.7,217.5 L381.8,217.3 L381.9,218.0 L381.9,217.6 L382.0,218.0 L382.1,217.3 L382.2,217.8 L382.3,217.4 L382.4,218.1 L382.4,217.2 L382.5,217.8 L382.6,217.2 L382.7,217.7 L382.9,217.6 L382.9,217.8 L383.0,216.9 L383.1,218.2 L383.1,217.3 L383.2,217.7 L383.3,217.4 L383.3,217.7 L383.4,217.6 L383.5,217.7 L383.5,217.9 L383.6,217.4 L383.6,217.7 L383.7,217.2 L383.8,218.1 L383.8,217.5 L384.0,217.9 L384.0,217.3 L384.1,218.0 L384.3,217.2 L384.4,217.9 L384.5,217.5 L384.6,217.9 L384.7,217.6 L384.7,217.8 L384.7,217.3 L384.8,217.7 L384.9,217.5 L385.0,217.9 L385.0,217.3 L385.1,217.7 L385.1,217.5 L385.2,217.9 L385.2,217.6 L385.3,218.0 L385.4,217.2 L385.4,218.0 L385.4,217.5 L385.5,217.8 L385.7,217.5 L385.8,218.1 L386.0,217.3 L386.1,217.9 L386.1,217.2 L386.3,218.0 L386.4,217.2 L386.5,217.6 L386.6,217.1 L386.6,217.9 L386.7,217.5 L386.7,217.8 L386.8,217.4 L386.8,218.3 L387.0,217.3 L387.0,217.7 L387.1,217.2 L387.2,217.6 L387.2,217.5 L387.3,217.7 L387.4,217.5 L387.4,218.0 L387.6,217.1 L387.7,217.7 L387.8,217.3 L387.9,217.6 L387.9,218.3 L388.0,217.1 L388.1,217.9 L388.2,217.5 L388.2,217.9 L388.3,217.2 L388.3,217.7 L388.4,217.6 L388.5,217.7 L388.5,217.4 L388.6,217.8 L388.6,216.9 L388.7,218.0 L388.8,217.4 L388.9,217.8 L389.0,217.2 L389.1,217.6 L389.1,217.3 L389.2,218.1 L389.2,217.2 L389.3,218.0 L389.3,217.4 L389.4,217.8 L389.4,217.5 L389.5,217.8 L389.5,217.7 L389.6,217.8 L389.7,217.2 L389.8,218.0 L389.8,217.4 L389.8,218.0 L389.9,217.1 L390.0,218.0 L390.0,217.2 L390.1,217.9 L390.2,217.4 L390.2,218.0 L390.2,217.3 L390.3,218.0 L390.3,217.2 L390.4,218.1 L390.5,217.2 L390.6,217.8 L390.6,217.4 L390.7,217.7 L390.8,217.2 L390.8,217.7 L390.9,217.5 L391.0,218.0 L391.1,217.6 L391.1,218.0 L391.2,217.7 L391.2,217.9 L391.3,217.2 L391.3,217.8 L391.5,217.1 L391.5,217.7 L391.6,217.4 L391.6,217.8 L391.6,217.4 L391.7,217.9 L391.8,217.3 L391.9,217.9 L391.9,217.3 L392.0,217.8 L392.0,217.2 L392.0,218.1 L392.1,217.5 L392.1,217.7 L392.3,217.3 L392.4,217.9 L392.5,217.2 L392.5,217.7 L392.6,217.2 L392.7,218.1 L392.8,217.3 L392.8,217.9 L392.9,217.5 L392.9,217.8 L393.0,217.3 L393.1,217.5 L393.2,218.7 L393.2,217.2 L393.3,218.1 L393.4,217.2 L393.4,217.8 L393.5,217.4 L393.6,218.0 L393.7,217.3 L393.7,217.9 L393.8,217.5 L393.9,217.9 L393.9,217.4 L394.1,217.9 L394.1,217.3 L394.2,217.6 L394.3,217.4 L394.3,217.9 L394.4,217.4 L394.5,217.9 L394.6,217.3 L394.7,217.6 L394.7,217.2 L394.8,217.9 L394.8,217.1 L394.9,218.2 L394.9,217.5 L395.0,218.0 L395.1,217.3 L395.2,217.8 L395.3,217.4 L395.4,217.7 L395.4,217.3 L395.4,217.8 L395.5,217.6 L395.6,217.8 L395.8,217.3 L395.8,217.9 L395.9,217.5 L396.0,217.9 L396.0,217.7 L396.1,217.9 L396.2,217.4 L396.3,217.8 L396.3,217.4 L396.3,217.9 L396.4,217.5 L396.4,217.8 L396.5,217.4 L396.5,218.1 L396.6,217.2 L396.8,217.9 L396.9,217.3 L396.9,217.7 L397.0,217.3 L397.0,218.0 L397.1,217.3 L397.2,217.9 L397.2,217.5 L397.3,218.0 L397.5,217.5 L397.5,217.9 L397.5,217.4 L397.6,217.8 L397.7,217.0 L397.8,217.8 L397.9,217.3 L398.0,217.8 L398.0,217.4 L398.1,217.9 L398.1,217.4 L398.2,217.8 L398.2,217.5 L398.4,217.7 L398.4,217.5 L398.6,218.0 L398.6,217.1 L398.7,217.9 L398.7,217.5 L398.8,217.8 L398.8,217.5 L398.9,218.0 L399.0,217.4 L399.0,218.0 L399.1,217.3 L399.3,218.0 L399.4,217.5 L399.5,217.7 L399.5,217.3 L399.6,217.8 L399.7,217.5 L399.8,218.3 L399.9,217.6 L400.0,217.8 L400.1,217.2 L400.2,217.9 L400.3,217.1 L400.3,217.8 L400.4,217.1 L400.5,218.0 L400.5,217.2 L400.7,217.8 L400.7,217.6 L400.8,217.7 L400.8,217.2 L400.9,217.7 L401.0,217.4 L401.1,217.6 L401.1,217.3 L401.1,218.2 L401.2,217.4 L401.2,217.9 L401.2,217.5 L401.3,217.8 L401.3,217.5 L401.4,218.1 L401.4,217.2 L401.5,217.9 L401.5,216.9 L401.5,217.5 L401.6,217.4 L401.6,217.6 L401.6,217.4 L401.7,217.8 L401.8,217.4 L401.8,218.2 L402.0,217.3 L402.1,217.9 L402.1,217.1 L402.2,218.0 L402.3,217.7 L402.4,217.9 L402.4,217.2 L402.5,218.0 L402.6,217.2 L402.8,218.1 L402.9,217.3 L402.9,217.9 L403.0,217.2 L403.1,217.8 L403.1,217.4 L403.2,217.9 L403.2,217.5 L403.4,218.3 L403.4,217.2 L403.5,217.8 L403.6,217.5 L403.6,217.7 L403.7,217.5 L403.8,217.9 L403.8,217.2 L403.8,217.9 L403.9,217.2 L403.9,217.7 L404.0,217.4 L404.1,217.9 L404.3,217.4 L404.4,218.1 L404.4,217.2 L404.5,218.2 L404.6,217.1 L404.7,217.6 L404.7,217.1 L404.9,218.0 L405.0,217.2 L405.1,217.9 L405.1,217.0 L405.1,217.7 L405.2,217.3 L405.4,217.8 L405.5,217.4 L405.5,217.8 L405.6,217.3 L405.6,218.0 L405.7,217.2 L405.7,218.1 L405.8,217.0 L405.9,217.8 L406.0,217.6 L406.1,217.7 L406.1,217.5 L406.1,217.9 L406.2,217.0 L406.3,217.9 L406.4,217.1 L406.4,217.5 L406.5,217.5 L406.6,217.8 L406.7,217.6 L406.7,217.9 L406.7,217.6 L406.9,217.9 L406.9,217.3 L407.0,218.3 L407.0,217.3 L407.1,217.7 L407.2,217.0 L407.2,217.9 L407.2,217.5 L407.3,217.9 L407.3,217.6 L407.4,217.9 L407.4,217.4 L407.5,217.7 L407.6,217.5 L407.7,217.8 L407.7,217.5 L407.7,217.8 L407.8,217.3 L407.8,218.2 L407.9,217.3 L407.9,218.0 L408.1,217.4 L408.2,217.8 L408.2,217.1 L408.3,218.4 L408.3,217.3 L408.4,217.9 L408.5,217.4 L408.5,217.8 L408.6,217.5 L408.7,217.9 L408.8,217.3 L409.0,217.8 L409.1,217.6 L409.1,218.0 L409.1,217.6 L409.2,218.1 L409.3,217.4 L409.5,218.0 L409.6,217.0 L409.6,217.6 L409.6,217.5 L409.7,217.7 L409.8,217.5 L409.8,217.7 L409.9,217.4 L409.9,217.9 L410.0,217.5 L410.1,217.8 L410.1,217.4 L410.1,218.1 L410.2,217.3 L410.3,217.9 L410.4,217.5 L410.5,217.5 L410.5,217.4 L410.6,217.9 L410.7,217.3 L410.7,217.9 L410.8,217.3 L410.8,218.1 L411.0,217.5 L411.1,217.9 L411.2,217.6 L411.2,218.0 L411.3,217.6 L411.3,217.8 L411.4,217.4 L411.4,217.7 L411.5,216.9 L411.5,217.7 L411.6,217.3 L411.7,217.9 L411.7,217.1 L411.8,218.2 L411.9,217.3 L412.0,217.9 L412.1,217.3 L412.1,217.7 L412.2,217.2 L412.3,217.9 L412.4,217.4 L412.5,217.5 L412.6,217.4 L412.6,217.9 L412.8,217.1 L412.9,217.9 L412.9,217.3 L413.0,217.8 L413.0,217.6 L413.1,217.8 L413.1,217.7 L413.2,218.2 L413.2,217.0 L413.3,218.1 L413.4,217.0 L413.5,217.5 L413.6,217.3 L413.6,217.5 L413.7,217.8 L413.7,217.3 L413.8,217.8 L413.9,217.3 L414.1,218.0 L414.1,217.2 L414.2,217.9 L414.4,217.3 L414.4,217.8 L414.5,217.3 L414.5,217.6 L414.6,217.4 L414.6,217.7 L414.7,217.5 L414.7,217.8 L414.8,217.2 L414.8,217.8 L415.0,217.3 L415.1,218.2 L415.2,217.2 L415.3,218.0 L415.3,217.5 L415.4,217.9 L415.5,217.3 L415.6,217.7 L415.6,217.2 L415.7,218.0 L415.7,217.3 L415.7,217.8 L415.8,217.4 L416.0,218.0 L416.0,217.3 L416.1,218.0 L416.2,217.4 L416.3,218.0 L416.3,217.5 L416.4,217.8 L416.4,217.3 L416.5,217.8 L416.6,217.4 L416.6,217.8 L416.7,217.3 L416.8,217.2 L416.9,217.6 L416.9,217.2 L417.0,217.9 L417.1,217.1 L417.1,217.9 L417.2,217.3 L417.2,217.7 L417.3,217.3 L417.5,217.7 L417.5,217.3 L417.6,217.7 L417.8,217.3 L417.9,217.9 L418.0,217.1 L418.1,217.5 L418.1,217.2 L418.2,217.5 L418.2,217.0 L418.3,217.4 L418.3,216.9 L418.4,217.5 L418.7,216.3 L419.1,206.6 L419.4,217.3 L419.5,219.0 L419.6,218.9 L419.7,219.1 L419.8,217.7 L419.8,218.4 L419.8,217.8 L419.9,218.0 L419.9,218.0 L420.0,217.3 L420.1,217.6 L420.1,217.2 L420.2,217.6 L420.2,217.3 L420.3,217.5 L420.3,218.1 L420.4,217.2 L420.5,217.7 L420.6,217.2 L420.7,217.9 L420.8,217.7 L420.8,217.8 L420.8,217.4 L420.9,217.8 L421.0,217.4 L421.1,217.9 L421.1,217.2 L421.2,217.6 L421.2,217.2 L421.3,217.8 L421.5,216.9 L421.5,217.8 L421.6,217.2 L421.7,218.1 L421.8,217.5 L421.8,218.1 L421.9,217.5 L422.0,217.8 L422.0,217.4 L422.1,217.8 L422.1,217.1 L422.2,218.1 L422.3,217.5 L422.4,217.9 L422.5,217.5 L422.6,218.1 L422.6,217.3 L422.7,218.1 L422.7,217.0 L422.8,218.2 L422.9,217.2 L423.0,217.9 L423.1,217.3 L423.2,217.9 L423.2,217.2 L423.4,217.8 L423.5,217.1 L423.5,218.0 L423.6,217.5 L423.7,218.2 L423.7,217.4 L423.7,217.8 L423.9,217.2 L423.9,217.8 L423.9,217.4 L424.0,217.8 L424.1,217.2 L424.2,218.1 L424.2,217.3 L424.3,217.7 L424.4,217.4 L424.4,217.6 L424.5,217.5 L424.5,218.0 L424.6,217.4 L424.6,217.6 L424.7,217.4 L424.8,217.7 L424.8,217.4 L424.9,217.8 L424.9,217.3 L425.0,217.9 L425.1,217.5 L425.1,218.1 L425.2,217.2 L425.2,217.7 L425.3,217.1 L425.4,217.7 L425.4,217.4 L425.4,217.8 L425.5,217.8 L425.6,217.4 L425.6,217.7 L425.7,217.3 L425.8,217.7 L425.8,217.3 L425.8,217.7 L425.9,217.6 L425.9,217.8 L426.0,217.5 L426.0,218.0 L426.1,217.3 L426.2,218.0 L426.2,217.5 L426.2,218.0 L426.4,217.5 L426.5,217.6 L426.5,217.3 L426.6,217.8 L426.7,217.5 L426.7,217.9 L426.7,217.2 L426.8,217.8 L426.8,217.7 L426.9,217.9 L427.0,217.6 L427.0,217.8 L427.0,217.4 L427.1,217.7 L427.1,217.2 L427.2,217.7 L427.2,217.8 L427.3,217.6 L427.3,217.9 L427.4,216.8 L427.4,217.6 L427.5,217.4 L427.6,217.8 L427.6,217.5 L427.7,217.9 L427.8,217.4 L427.8,217.7 L427.9,217.1 L427.9,217.6 L428.0,217.2 L428.0,217.9 L428.1,217.3 L428.1,217.8 L428.1,217.4 L428.2,217.5 L428.3,217.2 L428.4,218.1 L428.4,217.1 L428.5,218.0 L428.6,217.3 L428.7,218.0 L428.8,217.3 L429.0,217.7 L429.0,217.5 L429.1,217.9 L429.1,217.5 L429.2,218.1 L429.2,217.5 L429.2,217.9 L429.3,217.5 L429.4,217.7 L429.5,217.4 L429.6,217.9 L429.6,217.4 L429.7,217.9 L429.8,217.4 L429.8,218.3 L429.8,217.4 L429.9,218.3 L430.0,217.5 L430.0,218.0 L430.1,217.4 L430.2,217.7 L430.2,217.2 L430.3,217.8 L430.3,217.9 L430.4,217.4 L430.5,217.9 L430.5,217.1 L430.5,217.9 L430.6,217.4 L430.7,217.9 L430.7,217.7 L430.8,217.8 L430.8,217.3 L430.9,218.2 L431.1,217.6 L431.1,217.8 L431.2,217.6 L431.3,217.8 L431.3,217.7 L431.5,218.0 L431.5,217.5 L431.6,218.2 L431.7,217.8 L431.7,218.2 L431.8,217.4 L431.9,218.1 L432.0,217.4 L432.1,218.0 L432.2,217.5 L432.2,217.9 L432.7,214.7 L432.8,218.1 L433.2,236.6 L433.6,220.4 L433.8,218.3 L433.9,218.8 L433.9,218.0 L434.0,218.5 L434.0,218.1 L434.1,218.9 L434.2,217.4 L434.3,218.6 L434.4,217.6 L434.5,218.6 L434.6,217.9 L434.7,218.5 L434.7,217.8 L434.9,218.6 L435.1,218.2 L435.1,218.6 L435.2,218.3 L435.3,218.8 L435.4,218.6 L435.5,218.8 L435.5,218.5 L435.5,219.3 L435.6,218.7 L435.6,218.9 L435.8,218.4 L435.9,219.4 L435.9,218.3 L436.0,219.3 L436.2,218.3 L436.3,218.8 L436.3,218.5 L436.4,218.7 L436.6,218.1 L436.7,218.6 L436.8,218.2 L436.8,218.9 L436.8,218.3 L436.9,218.4 L436.9,218.1 L437.0,218.6 L437.1,217.7 L437.1,218.2 L437.2,217.7 L437.2,218.1 L437.3,217.6 L437.4,218.2 L437.6,217.4 L437.6,218.2 L437.7,217.2 L437.8,218.1 L438.0,217.1 L438.1,217.5 L438.1,216.9 L438.3,217.4 L438.3,216.8 L438.4,217.3 L438.5,216.4 L438.6,217.2 L438.6,217.0 L438.7,217.2 L438.7,217.0 L438.7,217.1 L438.8,216.6 L438.8,217.4 L438.9,216.6 L438.9,217.2 L439.0,216.9 L439.1,217.2 L439.1,216.8 L439.2,217.2 L439.3,216.6 L439.3,217.0 L439.4,216.7 L439.4,216.8 L439.5,217.5 L439.5,217.1 L439.5,217.6 L439.6,217.0 L439.7,217.6 L439.7,217.0 L439.7,217.4 L439.8,217.1 L439.9,217.2 L439.9,217.7 L440.0,216.8 L440.1,217.2 L440.2,216.7 L440.2,217.7 L440.3,217.1 L440.4,217.8 L440.5,217.1 L440.6,217.5 L440.6,217.3 L440.7,218.0 L440.9,217.4 L440.9,217.7 L441.0,217.3 L441.1,217.4 L441.1,217.0 L441.2,217.7 L441.2,217.0 L441.3,217.9 L441.4,217.2 L441.6,217.9 L441.7,217.5 L441.7,217.7 L441.8,217.0 L441.9,217.8 L442.0,217.5 L442.0,218.0 L442.2,217.3 L442.2,218.0 L442.3,217.4 L442.3,218.0 L442.4,217.4 L442.5,217.9 L442.5,217.2 L442.5,217.9 L442.6,217.2 L442.7,218.0 L442.7,217.0 L442.8,218.0 L442.9,217.3 L442.9,217.8 L443.0,217.3 L443.1,217.9 L443.2,217.2 L443.2,218.0 L443.4,217.2 L443.5,218.0 L443.6,217.2 L443.6,217.7 L443.7,217.3 L443.7,218.0 L443.9,217.5 L444.0,218.0 L444.1,217.4 L444.2,217.8 L444.3,217.2 L444.3,217.7 L444.3,217.3 L444.5,217.7 L444.5,217.5 L444.5,218.0 L444.6,217.5 L444.7,218.1 L444.8,217.2 L444.8,218.0 L444.9,217.1 L445.1,217.8 L445.2,216.9 L445.2,217.9 L445.3,217.4 L445.3,217.9 L445.4,217.2 L445.4,217.7 L445.5,217.3 L445.5,217.9 L445.6,217.4 L445.7,217.9 L445.7,217.1 L445.8,218.1 L445.9,217.0 L446.0,218.0 L446.1,216.9 L446.1,218.0 L446.2,217.4 L446.3,217.7 L446.4,217.3 L446.5,217.7 L446.5,217.2 L446.5,218.2 L446.7,217.3 L446.8,218.1 L446.8,217.2 L446.9,217.7 L447.0,217.3 L447.0,217.6 L447.0,216.9 L447.1,217.8 L447.1,217.4 L447.2,217.9 L447.3,217.3 L447.4,217.8 L447.4,217.3 L447.5,217.9 L447.5,217.6 L447.7,217.8 L447.7,217.1 L447.8,218.0 L447.8,217.3 L448.0,217.9 L448.1,217.4 L448.1,218.0 L448.1,217.4 L448.2,217.7 L448.2,217.3 L448.3,217.7 L448.5,217.3 L448.6,217.9 L448.6,217.6 L448.7,218.0 L448.7,217.2 L448.8,218.0 L448.9,217.4 L449.0,218.2 L449.1,217.3 L449.2,217.8 L449.3,217.1 L449.4,217.8 L449.4,217.2 L449.5,217.8 L449.6,217.4 L449.7,217.6 L449.7,217.3 L449.7,217.9 L449.8,216.9 L449.8,218.1 L450.0,217.3 L450.0,217.9 L450.1,217.5 L450.1,217.8 L450.3,217.3 L450.3,218.0 L450.5,217.2 L450.6,217.6 L450.7,217.2 L450.7,217.9 L450.8,217.3 L450.9,217.8 L451.0,217.4 L451.0,217.9 L451.0,217.5 L451.2,217.6 L451.2,217.5 L451.2,217.8 L451.3,217.4 L451.4,218.0 L451.4,217.2 L451.5,218.0 L451.5,217.3 L451.6,218.2 L451.6,217.6 L451.7,217.5 L451.8,217.9 L452.0,217.4 L452.0,218.1 L452.1,217.6 L452.1,217.8 L452.3,217.6 L452.3,217.9 L452.4,217.2 L452.5,218.0 L452.6,217.4 L452.7,217.9 L452.8,217.4 L452.8,218.1 L453.0,217.1 L453.1,217.8 L453.2,217.4 L453.3,217.8 L453.4,217.5 L453.6,218.0 L453.7,217.5 L453.8,218.0 L453.8,217.0 L453.9,217.7 L453.9,217.5 L454.0,217.8 L454.0,217.5 L454.0,218.1 L454.1,217.5 L454.1,217.9 L454.2,217.6 L454.2,217.9 L454.3,217.3 L454.4,218.1 L454.5,217.4 L454.7,217.8 L454.8,217.3 L454.8,217.7 L454.9,217.4 L455.0,217.8 L455.1,217.0 L455.2,218.2 L455.2,217.4 L455.3,217.9 L455.4,217.3 L455.4,218.2 L455.5,217.3 L455.5,217.7 L455.6,217.4 L455.6,218.2 L455.7,217.6 L455.8,218.2 L455.8,217.4 L455.9,218.0 L456.0,217.3 L456.0,217.8 L456.1,217.5 L456.2,217.7 L456.2,217.6 L456.3,218.1 L456.3,217.5 L456.3,217.6 L456.4,217.3 L456.5,217.6 L456.5,217.2 L456.6,217.9 L456.7,217.4 L456.8,217.9 L456.8,217.3 L456.9,217.8 L457.0,216.9 L457.0,217.5 L457.1,217.6 L457.1,217.5 L457.2,218.2 L457.3,217.1 L457.3,217.7 L457.4,217.2 L457.4,217.6 L457.6,217.3 L457.6,217.6 L457.7,217.3 L457.7,218.0 L457.8,217.0 L457.9,217.9 L458.1,217.1 L458.3,217.6 L458.3,217.3 L458.4,217.8 L458.4,217.4 L458.5,217.7 L458.6,217.4 L458.6,217.8 L458.7,217.1 L458.7,218.1 L458.9,217.3 L459.0,218.1 L459.1,217.4 L459.2,218.1 L459.3,217.4 L459.4,218.0 L459.4,217.3 L459.5,217.7 L459.6,217.1 L459.6,217.7 L459.7,217.0 L459.7,217.5 L459.8,217.3 L459.8,217.7 L459.9,217.5 L459.9,217.7 L460.0,217.1 L460.1,217.9 L460.1,217.5 L460.1,217.9 L460.2,217.4 L460.3,218.0 L460.3,217.4 L460.4,217.7 L460.4,217.4 L460.5,217.9 L460.5,217.5 L460.5,217.8 L460.7,217.4 L460.7,218.2 L460.7,217.4 L460.8,217.9 L460.9,217.3 L461.1,217.8 L461.2,217.2 L461.3,217.6 L461.3,217.4 L461.4,217.6 L461.4,217.5 L461.5,217.9 L461.5,217.5 L461.7,217.8 L461.7,217.3 L461.7,217.9 L461.8,217.3 L461.9,217.9 L461.9,217.4 L462.1,217.9 L462.2,217.4 L462.3,217.8 L462.4,217.3 L462.5,217.8 L462.6,217.3 L462.6,218.0 L462.7,217.5 L462.8,217.7 L462.8,217.3 L463.0,217.8 L463.0,217.3 L463.0,218.0 L463.1,217.2 L463.1,217.9 L463.2,217.4 L463.3,217.8 L463.3,217.1 L463.5,218.3 L463.6,217.4 L463.6,218.3 L463.7,217.6 L463.7,218.1 L463.8,217.8 L463.8,217.3 L463.9,218.0 L463.9,217.6 L464.0,218.0 L464.1,217.4 L464.2,217.7 L464.3,217.4 L464.4,217.8 L464.5,217.5 L464.5,217.9 L464.6,217.4 L464.7,218.1 L464.8,217.6 L464.8,217.9 L464.9,217.1 L465.0,217.6 L465.1,217.5 L465.1,217.7 L465.2,217.3 L465.3,217.8 L465.3,217.3 L465.4,217.9 L465.5,217.4 L465.6,217.9 L465.6,217.5 L465.8,217.8 L465.9,217.2 L466.0,218.1 L466.1,217.2 L466.3,217.8 L466.4,217.3 L466.5,217.9 L466.6,217.2 L466.7,217.9 L466.8,217.4 L466.9,217.7 L467.0,217.4 L467.0,217.9 L467.1,217.1 L467.2,217.9 L467.2,217.2 L467.3,217.9 L467.3,217.3 L467.4,217.9 L467.5,217.3 L467.6,218.2 L467.7,217.3 L467.7,217.5 L467.8,217.3 L467.9,217.7 L467.9,217.5 L468.0,217.9 L468.1,217.1 L468.3,218.0 L468.4,217.1 L468.6,218.0 L468.7,217.5 L468.7,217.4 L468.8,217.6 L468.8,217.3 L468.9,217.9 L469.0,217.3 L469.1,217.7 L469.1,217.3 L469.2,217.9 L469.3,217.1 L469.4,217.8 L469.5,217.0 L469.5,218.2 L469.5,217.6 L469.6,217.7 L469.7,217.4 L469.8,218.1 L469.9,217.3 L470.0,217.7 L470.0,217.5 L470.1,218.2 L470.2,217.1 L470.2,217.7 L470.3,217.5 L470.3,217.7 L470.3,217.0 L470.4,217.9 L470.4,217.1 L470.5,217.8 L470.6,217.6 L470.6,217.9 L470.7,217.5 L470.7,218.0 L470.8,217.3 L470.9,218.0 L470.9,217.2 L471.1,217.7 L471.1,217.3 L471.2,218.1 L471.3,217.3 L471.3,217.7 L471.3,217.3 L471.4,217.8 L471.5,216.9 L471.6,217.8 L471.7,217.4 L471.8,217.8 L471.8,217.5 L471.9,217.9 L472.0,217.2 L472.1,218.2 L472.1,217.5 L472.3,217.9 L472.4,217.5 L472.4,218.2 L472.5,217.4 L472.6,218.1 L472.6,217.3 L472.7,217.7 L472.8,217.1 L472.8,217.9 L473.0,217.2 L473.1,218.1 L473.2,217.5 L473.3,218.4 L473.4,216.9 L473.5,217.9 L473.5,217.4 L473.6,218.0 L473.7,217.2 L473.8,217.7 L474.0,217.3 L474.1,218.0 L474.2,217.3 L474.2,217.7 L474.2,217.5 L474.3,217.9 L474.4,217.7 L474.5,217.1 L474.6,218.0 L474.6,217.3 L474.7,217.8 L474.8,217.5 L474.8,217.8 L474.9,217.5 L474.9,217.8 L475.0,216.8 L475.1,217.7 L475.2,217.1 L475.3,217.8 L475.6,216.8 L475.7,217.2 L476.1,214.6 L476.4,207.1 L476.9,224.3 L477.2,219.2 L477.2,219.7 L477.4,218.4 L477.5,218.0 L477.6,218.1 L477.6,217.7 L477.6,218.0 L477.7,217.4 L477.8,218.1 L477.9,217.5 L478.0,218.2 L478.1,217.5 L478.2,218.1 L478.3,217.3 L478.4,217.9 L478.4,217.5 L478.4,217.9 L478.5,217.6 L478.6,218.2 L478.6,217.5 L478.6,217.6 L478.7,217.5 L478.7,217.7 L478.8,217.2 L478.8,217.7 L478.9,217.2 L479.0,218.0 L479.1,217.3 L479.3,218.3 L479.3,217.2 L479.4,217.8 L479.4,217.3 L479.5,218.0 L479.5,217.6 L479.5,218.2 L479.6,217.3 L479.6,218.0 L479.7,217.2 L479.8,218.2 L479.8,217.7 L479.9,218.2 L479.9,217.2 L480.1,217.8 L480.2,217.2 L480.3,217.8 L480.3,217.3 L480.5,217.8 L480.6,217.2 L480.8,217.5 L480.8,217.1 L481.0,217.8 L481.1,217.3 L481.2,217.9 L481.3,217.3 L481.4,217.9 L481.4,217.4 L481.5,217.3 L481.5,217.7 L481.5,217.4 L481.6,218.3 L481.7,217.5 L481.7,217.7 L481.8,217.5 L481.8,217.9 L482.0,217.5 L482.1,217.8 L482.2,217.4 L482.3,217.8 L482.3,217.2 L482.5,218.1 L482.6,217.1 L482.7,217.8 L482.8,217.5 L482.8,217.9 L482.9,217.3 L483.1,217.9 L483.1,217.2 L483.1,217.7 L483.2,217.4 L483.3,217.9 L483.4,217.2 L483.5,217.8 L483.5,217.3 L483.7,218.0 L483.8,217.5 L483.8,218.0 L483.9,217.4 L483.9,217.9 L484.0,217.3 L484.0,217.9 L484.2,217.3 L484.3,218.0 L484.3,217.5 L484.4,217.9 L484.4,217.5 L484.5,217.9 L484.6,217.5 L484.6,217.6 L484.8,217.3 L484.8,218.1 L484.9,217.1 L485.0,218.0 L485.0,217.2 L485.1,217.5 L485.1,217.1 L485.2,218.0 L485.2,217.5 L485.3,217.9 L485.3,217.4 L485.3,217.7 L485.5,217.2 L485.5,217.8 L485.6,216.9 L485.6,218.0 L485.7,217.6 L485.7,218.0 L485.8,217.0 L485.9,217.9 L486.0,217.4 L486.1,217.8 L486.2,217.4 L486.2,217.7 L486.3,217.3 L486.4,217.9 L486.5,217.5 L486.6,217.8 L486.6,217.3 L486.7,217.7 L486.8,217.4 L486.8,217.8 L486.9,217.1 L486.9,218.0 L486.9,217.3 L487.0,217.9 L487.1,217.2 L487.2,217.9 L487.2,217.5 L487.3,217.6 L487.4,217.4 L487.5,217.8 L487.5,217.5 L487.6,218.1 L487.7,216.9 L487.8,217.7 L487.9,217.2 L487.9,217.8 L488.0,217.2 L488.0,218.0 L488.1,217.3 L488.1,218.0 L488.2,217.1 L488.2,217.7 L488.2,217.4 L488.3,217.8 L488.4,217.6 L488.4,217.8 L488.5,217.4 L488.5,217.7 L488.6,217.3 L488.7,218.0 L488.8,217.3 L488.8,218.0 L488.9,217.1 L489.0,217.7 L489.0,217.5 L489.1,217.7 L489.2,217.3 L489.3,217.9 L489.3,217.4 L489.4,217.9 L489.4,217.1 L489.5,218.2 L489.5,217.3 L489.5,217.8 L489.7,217.1 L489.8,218.1 L489.9,217.3 L490.0,217.7 L490.1,217.5 L490.1,218.3 L490.3,217.1 L490.4,218.1 L490.5,217.1 L490.6,218.0 L490.6,217.4 L490.6,217.9 L490.9,217.4 L490.9,218.0 L490.9,217.6 L491.0,217.7 L491.1,217.6 L491.2,218.2 L491.4,216.8 L491.4,217.7 L491.4,217.5 L491.5,217.7 L491.6,217.4 L491.7,218.3 L491.7,217.6 L491.8,217.8 L491.9,217.5 L491.9,217.7 L491.9,217.1 L492.0,217.9 L492.1,217.3 L492.3,218.0 L492.4,217.6 L492.4,218.0 L492.4,217.4 L492.5,217.9 L492.5,217.5 L492.6,217.9 L492.7,217.3 L492.8,218.0 L492.8,217.6 L492.9,217.9 L492.9,217.5 L493.0,217.9 L493.1,217.2 L493.3,217.8 L493.3,217.3 L493.4,218.0 L493.5,217.4 L493.6,218.1 L493.6,217.3 L493.8,217.8 L493.8,217.3 L493.9,217.8 L494.0,217.3 L494.0,217.9 L494.1,217.3 L494.1,217.7 L494.3,217.3 L494.3,217.9 L494.4,217.5 L494.4,217.8 L494.5,217.5 L494.5,217.6 L494.6,217.0 L494.6,217.7 L494.7,217.5 L494.7,217.7 L494.8,217.0 L495.0,218.0 L495.0,217.3 L495.1,217.6 L495.2,217.1 L495.2,217.7 L495.3,217.6 L495.3,218.0 L495.5,217.0 L495.5,217.8 L495.6,217.2 L495.8,217.9 L495.9,217.0 L496.0,217.9 L496.1,217.7 L496.3,217.9 L496.4,217.2 L496.4,217.6 L496.5,217.8 L496.5,217.4 L496.5,217.9 L496.6,217.5 L496.7,218.2 L496.7,217.1 L496.8,217.6 L496.9,217.3 L497.0,217.6 L497.0,217.2 L497.0,217.8 L497.1,217.2 L497.2,217.8 L497.4,217.4 L497.5,217.9 L497.5,217.3 L497.5,218.0 L497.6,217.4 L497.7,217.3 L497.8,217.9 L497.8,217.7 L497.9,217.8 L498.0,217.2 L498.0,217.6 L498.0,217.3 L498.1,217.6 L498.2,217.5 L498.2,217.6 L498.2,218.1 L498.3,217.6 L498.3,217.5 L498.4,217.7 L498.4,217.4 L498.4,217.7 L498.5,217.2 L498.6,218.1 L498.6,217.2 L498.7,217.7 L498.8,217.4 L498.8,218.0 L499.0,217.1 L499.0,217.8 L499.1,217.3 L499.3,217.9 L499.3,217.3 L499.4,218.1 L499.4,217.2 L499.5,217.9 L499.6,217.7 L499.7,218.0 L499.7,217.5 L499.8,217.7 L499.8,217.5 L499.9,217.8 L499.9,217.2 L499.9,218.1 L500.0,217.4 L500.1,217.3 L500.1,217.7 L500.1,217.1 L500.3,218.0 L500.4,217.3 L500.5,217.7 L500.5,216.9 L500.7,217.8 L500.8,217.4 L500.8,217.6 L500.8,216.9 L500.9,217.9 L501.0,217.1 L501.1,217.6 L501.1,217.2 L501.3,217.8 L501.3,217.2 L501.4,218.3 L501.4,217.6 L501.5,217.4 L501.6,217.7 L501.6,217.1 L501.7,217.8 L501.7,217.1 L501.8,217.6 L501.9,217.1 L502.0,217.5 L502.0,216.9 L502.1,217.3 L502.1,217.2 L502.2,217.3 L502.3,216.8 L502.4,217.0 L502.9,212.5 L503.0,213.1 L503.1,212.4 L503.6,217.1 L503.7,216.5 L503.7,217.4 L503.7,217.0 L503.8,217.3 L503.9,217.0 L504.0,217.8 L504.0,217.2 L504.1,217.1 L504.2,217.4 L504.2,217.0 L504.2,217.9 L504.3,217.2 L504.3,217.8 L504.5,217.3 L504.5,217.7 L504.5,217.5 L504.7,217.8 L504.7,216.9 L504.8,218.0 L504.9,217.4 L505.0,218.0 L505.0,217.3 L505.2,217.8 L505.2,217.5 L505.3,217.8 L505.3,217.3 L505.4,217.7 L505.4,217.4 L505.5,217.6 L505.6,217.3 L505.7,217.7 L505.7,217.3 L505.9,217.8 L505.9,217.4 L506.0,217.9 L506.2,217.0 L506.2,217.7 L506.2,217.3 L506.3,217.8 L506.3,217.3 L506.4,218.1 L506.5,217.4 L506.6,218.0 L506.7,217.3 L506.8,218.0 L506.8,217.7 L506.9,217.9 L507.0,217.6 L507.0,217.9 L507.1,217.0 L507.2,218.2 L507.3,217.1 L507.3,218.1 L507.4,217.4 L507.5,217.7 L507.7,217.3 L507.7,217.5 L507.8,217.0 L507.8,218.0 L507.9,217.2 L507.9,217.9 L508.0,217.2 L508.1,218.2 L508.1,217.2 L508.2,217.8 L508.3,217.3 L508.3,217.9 L508.3,217.2 L508.4,217.7 L508.5,217.1 L508.6,217.7 L508.6,217.5 L508.7,217.7 L508.7,217.5 L508.8,217.8 L508.8,217.5 L508.9,217.9 L508.9,217.4 L509.0,217.9 L509.2,217.3 L509.3,218.0 L509.3,217.5 L509.5,217.7 L509.5,217.2 L509.6,217.8 L509.7,217.2 L509.8,217.9 L509.9,217.3 L510.0,217.9 L510.0,217.5 L510.1,217.8 L510.1,217.3 L510.2,218.0 L510.3,217.7 L510.3,218.0 L510.4,217.2 L510.5,218.0 L510.6,218.2 L510.6,217.8 L510.7,218.3 L510.7,218.1 L510.8,218.2 L510.8,219.0 L510.9,218.4 L510.9,218.8 L511.0,218.9 L511.0,218.7 L511.2,220.2 L511.2,219.5 L511.4,220.4 L511.6,219.2 L511.6,219.6 L511.8,218.3 L511.9,218.6 L512.0,217.9 L512.1,218.5 L512.1,217.9 L512.2,217.9 L512.2,218.0 L512.3,217.8 L512.3,218.2 L512.3,217.9 L512.4,218.1 L512.7,217.4 L512.7,218.2 L512.7,217.6 L512.8,218.2 L512.9,217.5 L513.1,218.0 L513.1,217.5 L513.2,218.0 L513.2,217.2 L513.3,218.1 L513.3,217.3 L513.4,218.0 L513.5,217.3 L513.5,217.9 L513.6,217.5 L513.6,218.0 L513.7,217.3 L513.8,217.9 L513.9,217.2 L513.9,217.9 L514.0,217.6 L514.0,218.0 L514.1,217.6 L514.1,217.8 L514.1,217.7 L514.2,218.2 L514.2,217.3 L514.2,218.0 L514.3,217.4 L514.4,217.9 L514.4,217.5 L514.5,217.8 L514.5,217.2 L514.6,218.1 L514.8,217.1 L514.9,218.0 L514.9,217.2 L515.0,218.0 L515.0,217.6 L515.1,218.1 L515.1,217.4 L515.2,218.0 L515.2,217.4 L515.2,218.2 L515.3,217.2 L515.4,217.5 L515.4,217.3 L515.6,217.9 L515.6,217.2 L515.6,217.5 L515.7,217.2 L515.8,217.6 L515.8,217.0 L515.9,217.8 L516.1,217.6 L516.1,217.7 L516.1,217.2 L516.2,217.8 L516.3,217.0 L516.3,217.8 L516.4,217.2 L516.6,217.7 L516.6,217.4 L516.7,218.0 L516.7,217.5 L516.8,218.0 L516.8,217.5 L516.9,218.0 L517.0,217.3 L517.1,217.8 L517.2,217.3 L517.2,217.7 L517.3,217.6 L517.4,218.0 L517.6,216.9 L517.7,217.8 L517.9,217.4 L517.9,217.7 L518.0,217.2 L518.1,218.0 L518.1,217.1 L518.2,217.9 L518.3,217.2 L518.5,217.6 L518.6,217.3 L518.6,217.7 L518.6,217.2 L518.8,217.9 L518.9,217.1 L519.0,218.0 L519.0,217.3 L519.0,218.4 L519.1,217.5 L519.2,217.9 L519.3,217.2 L519.3,217.7 L519.4,217.5 L519.6,217.8 L519.6,217.1 L519.6,218.0 L519.7,217.3 L519.8,218.0 L519.8,217.7 L519.9,217.8 L520.0,217.6 L520.0,218.0 L520.0,217.4 L520.1,217.7 L520.2,217.3 L520.4,218.1 L520.4,217.3 L520.5,217.9 L520.6,217.3 L520.6,217.6 L520.7,217.2 L520.7,217.6 L520.8,217.4 L520.9,217.9 L521.0,217.3 L521.0,217.9 L521.1,217.3 L521.2,217.7 L521.2,217.1 L521.4,217.8 L521.5,217.4 L521.6,218.4 L521.7,217.1 L521.8,217.9 L521.9,217.5 L521.9,217.9 L521.9,217.3 L522.0,217.7 L522.1,217.4 L522.1,217.8 L522.2,217.1 L522.2,218.0 L522.3,217.4 L522.3,217.8 L522.6,217.4 L522.7,218.0 L522.8,217.2 L522.8,217.8 L522.9,217.5 L523.0,218.1 L523.2,217.0 L523.3,218.2 L523.4,217.1 L523.5,217.6 L523.5,217.4 L523.6,217.7 L523.6,217.5 L523.7,218.0 L523.8,217.5 L523.8,218.2 L523.9,217.3 L524.0,217.9 L524.1,217.2 L524.2,217.9 L524.3,217.2 L524.4,218.1 L524.5,217.6 L524.6,217.4 L524.7,217.6 L524.7,217.2 L524.8,217.9 L524.9,217.6 L524.9,217.9 L525.0,217.1 L525.1,217.8 L525.1,217.1 L525.2,217.6 L525.3,217.3 L525.3,217.9 L525.4,217.4 L525.4,217.7 L525.5,217.4 L525.5,218.0 L525.7,217.2 L525.9,218.2 L525.9,217.3 L526.0,217.7 L526.0,217.4 L526.1,217.9 L526.2,217.3 L526.3,217.9 L526.4,217.5 L526.4,217.9 L526.5,217.2 L526.6,217.9 L526.7,217.2 L526.7,217.7 L526.9,217.4 L526.9,217.8 L527.0,217.2 L527.1,217.9 L527.2,217.5 L527.2,218.1 L527.2,217.2 L527.3,217.7 L527.4,217.3 L527.5,217.9 L527.5,217.5 L527.5,217.9 L527.6,217.5 L527.7,217.6 L527.8,217.9 L527.9,217.3 L527.9,217.7 L528.0,217.4 L528.1,217.8 L528.1,216.9 L528.2,218.3 L528.2,217.6 L528.3,218.0 L528.4,217.5 L528.5,217.8 L528.5,217.2 L528.5,218.1 L528.6,217.3 L528.7,217.9 L528.8,217.0 L528.9,218.0 L529.0,217.1 L529.0,217.6 L529.1,217.4 L529.3,217.7 L529.3,217.4 L529.4,218.1 L529.5,217.5 L529.6,217.9 L529.6,217.1 L529.7,218.0 L529.8,217.3 L529.9,217.7 L530.0,217.0 L530.2,218.1 L530.3,217.4 L530.5,218.1 L530.6,217.1 L530.7,217.9 L530.7,217.4 L530.8,217.7 L530.8,217.4 L530.9,217.6 L531.0,217.3 L531.1,218.4 L531.1,217.2 L531.2,218.1 L531.3,217.5 L531.3,217.7 L531.4,217.3 L531.4,217.6 L531.4,217.0 L531.7,218.2 L531.7,217.5 L531.8,217.7 L531.9,217.5 L532.0,218.0 L532.1,217.3 L532.2,217.8 L532.3,217.4 L532.4,217.9 L532.5,217.2 L532.5,217.7 L532.6,217.1 L532.7,217.9 L532.8,217.0 L532.8,217.8 L532.9,217.5 L533.0,217.6 L533.0,217.3 L533.1,218.1 L533.2,216.8 L533.2,217.7 L533.3,217.4 L533.5,217.8 L533.6,217.1 L533.7,218.1 L533.7,217.5 L533.7,217.9 L533.9,217.6 L533.9,218.0 L533.9,217.5 L534.1,218.0 L534.1,217.0 L534.2,217.8 L534.2,217.6 L534.3,217.8 L534.4,217.2 L534.5,217.6 L534.6,217.1 L534.6,217.9 L534.6,217.7 L534.7,217.9 L534.7,217.2 L534.8,217.8 L534.8,217.1 L534.9,218.1 L535.0,217.5 L535.0,217.7 L535.1,217.6 L535.1,218.1 L535.3,217.1 L535.4,218.0 L535.5,217.5 L535.5,217.7 L535.6,217.4 L535.6,217.6 L535.7,218.1 L535.7,217.3 L535.8,217.7 L535.8,217.4 L535.9,217.7 L535.9,217.3 L535.9,218.0 L536.1,217.4 L536.1,218.0 L536.2,217.4 L536.2,218.0 L536.3,217.4 L536.3,218.0 L536.4,217.5 L536.4,217.8 L536.5,217.5 L536.5,217.9 L536.6,217.3 L536.7,217.7 L536.7,217.3 L537.0,217.7 L537.0,217.3 L537.1,217.9 L537.2,217.6 L537.2,218.1 L537.3,217.3 L537.4,217.8 L537.4,217.3 L537.5,218.0 L537.5,217.5 L537.6,217.7 L537.6,217.4 L537.7,218.0 L537.7,217.4 L537.7,218.0 L537.8,217.4 L537.8,217.8 L537.9,217.3 L538.0,217.6 L538.1,217.3 L538.2,217.9 L538.3,217.4 L538.4,217.9 L538.5,217.5 L538.5,217.9 L538.7,217.4 L538.7,217.9 L538.8,217.6 L538.8,218.0 L538.9,217.6 L539.0,217.9 L539.0,217.6 L539.1,217.5 L539.1,217.7 L539.2,217.3 L539.3,217.6 L539.4,217.4 L539.4,217.7 L539.5,217.1 L539.5,218.1 L539.6,217.7 L539.6,218.2 L539.8,217.5 L539.9,218.1 L540.0,217.7 L540.0,218.3 L540.1,217.5 L540.2,218.5 L540.2,217.6 L540.4,218.1 L540.4,217.8 L540.4,218.2 L540.5,217.8 L540.6,218.1 L540.7,217.8 L540.7,218.1 L540.8,217.5 L540.8,218.4 L540.9,218.0 L541.1,219.3 L541.2,218.7 L541.3,219.9 L541.3,219.7 L541.3,219.9 L541.4,219.8 L541.4,220.5 L541.4,220.3 L541.5,220.8 L541.5,220.6 L541.6,221.3 L541.6,220.6 L541.7,221.6 L541.9,220.5 L542.0,221.0 L542.0,220.6 L542.1,220.8 L542.1,220.7 L542.1,219.7 L542.2,220.2 L542.2,219.6 L542.2,220.1 L542.3,219.2 L542.3,219.8 L542.4,218.7 L542.5,219.5 L542.6,218.3 L542.6,219.0 L542.7,217.8 L542.8,218.5 L543.0,217.5 L543.1,217.9 L543.1,217.5 L543.1,217.9 L543.2,217.6 L543.2,217.9 L543.3,217.6 L543.4,218.3 L543.4,217.4 L543.5,218.0 L543.6,217.2 L543.7,218.2 L543.8,216.9 L544.0,218.1 L544.1,217.4 L544.2,218.0 L544.3,217.4 L544.4,218.2 L544.4,217.6 L544.5,218.0 L544.6,217.3 L544.7,218.0 L544.8,217.3 L544.9,218.2 L545.0,217.3 L545.1,217.9 L545.1,217.1 L545.2,218.1 L545.2,217.3 L545.2,217.9 L545.3,217.4 L545.5,217.8 L545.5,217.6 L545.6,218.1 L545.6,217.3 L545.7,218.0 L545.8,217.5 L545.9,218.1 L546.0,217.5 L546.1,217.5 L546.1,217.9 L546.2,217.4 L546.3,218.0 L546.4,217.4 L546.4,217.9 L546.5,217.4 L546.5,218.1 L546.6,217.3 L546.6,217.5 L546.7,217.3 L546.8,218.0 L546.8,217.2 L546.9,217.9 L546.9,217.4 L547.0,218.0 L547.0,217.3 L547.1,217.8 L547.2,217.4 L547.4,217.7 L547.4,217.0 L547.5,217.7 L547.5,217.4 L547.6,217.9 L547.6,217.4 L547.6,217.9 L547.7,217.3 L547.8,217.7 L547.9,217.5 L547.9,218.0 L548.0,217.4 L548.0,217.8 L548.1,217.3 L548.2,218.0 L548.3,217.2 L548.5,217.7 L548.5,217.3 L548.6,217.8 L548.7,217.4 L548.8,217.8 L549.0,217.2 L549.1,217.9 L549.2,217.4 L549.3,217.8 L549.3,217.4 L549.3,218.1 L549.4,217.3 L549.5,217.9 L549.6,217.5 L549.7,217.7 L549.7,217.4 L549.8,217.6 L549.9,217.3 L549.9,217.7 L549.9,217.2 L550.1,218.2 L550.3,217.2 L550.4,217.7 L550.5,217.3 L550.5,217.7 L550.6,217.4 L550.6,218.1 L550.6,217.5 L550.7,217.9 L550.7,217.4 L550.8,217.8 L550.8,217.2 L550.9,217.7 L550.9,217.3 L551.1,217.7 L551.1,217.4 L551.2,218.0 L551.2,217.2 L551.3,217.6 L551.3,217.3 L551.3,217.7 L551.4,217.5 L551.4,217.7 L551.5,217.5 L551.6,217.9 L551.7,217.3 L551.7,217.9 L551.8,217.6 L551.9,217.7 L551.9,217.5 L552.0,217.7 L552.0,217.5 L552.0,217.6 L552.1,217.1 L552.2,217.7 L552.4,217.1 L552.5,218.0 L552.6,217.1 L552.9,218.0 L552.9,217.5 L553.0,218.0 L553.1,217.5 L553.2,217.8 L553.2,217.5 L553.2,217.8 L553.3,217.6 L553.3,218.1 L553.5,217.4 L553.6,218.1 L553.7,217.4 L553.7,217.9 L553.8,217.2 L553.8,218.0 L554.0,217.4 L554.0,217.7 L554.1,217.5 L554.1,217.7 L554.2,217.4 L554.2,218.0 L554.3,217.3 L554.4,217.9 L554.4,217.2 L554.5,217.6 L554.6,217.2 L554.7,217.7 L554.7,217.3 L554.8,217.9 L554.8,217.5 L554.9,217.7 L555.0,217.4 L555.0,217.8 L555.1,217.3 L555.2,217.9 L555.3,217.0 L555.3,217.9 L555.4,217.3 L555.5,218.0 L555.6,217.5 L555.7,217.8 L555.7,217.2 L555.8,217.6 L555.8,216.9 L556.0,218.1 L556.2,217.2 L556.3,218.1 L556.3,217.6 L556.4,218.0 L556.4,217.1 L556.5,218.0 L556.5,217.4 L556.6,217.8 L556.7,217.4 L556.7,217.8 L556.8,217.9 L556.9,217.7 L556.9,218.2 L557.0,217.5 L557.1,217.4 L557.2,217.5 L557.2,217.1 L557.3,217.7 L557.4,217.3 L557.4,218.0 L557.5,217.3 L557.7,217.7 L557.7,217.4 L557.8,217.9 L557.8,217.6 L557.9,217.8 L557.9,217.2 L558.0,217.8 L558.1,217.1 L558.2,217.9 L558.2,217.6 L558.3,217.7 L558.4,217.5 L558.4,217.7 L558.4,217.5 L558.5,218.4 L558.5,217.3 L558.6,217.8 L558.7,217.5 L558.7,217.8 L558.9,217.1 L559.0,217.8 L559.0,217.0 L559.1,218.0 L559.2,217.3 L559.2,217.7 L559.3,217.4 L559.4,217.6 L559.4,217.2 L559.5,217.7 L559.6,217.2 L559.6,217.8 L559.7,217.2 L559.9,218.2 L559.9,217.0 L560.0,217.9 L560.0,217.3 L560.1,217.8 L560.2,217.1 L560.3,217.9 L560.4,217.3 L560.5,217.9 L560.6,217.2 L560.6,217.8 L561.0,217.1 L561.0,217.9 L561.0,217.0 L561.1,218.0 L561.3,217.1 L561.3,218.0 L561.4,217.3 L561.5,217.7 L561.5,217.3 L561.6,217.8 L561.6,217.2 L561.7,218.2 L561.9,217.4 L561.9,217.8 L562.0,217.5 L562.1,217.9 L562.2,217.3 L562.2,217.8 L562.3,217.2 L562.4,217.8 L562.5,217.2 L562.5,217.8 L562.6,217.4 L562.7,217.8 L562.8,217.4 L562.9,218.1 L563.1,217.2 L563.3,218.1 L563.3,217.2 L563.4,217.7 L563.5,217.3 L563.5,217.7 L563.6,217.4 L563.6,217.9 L563.7,217.4 L563.7,217.6 L563.9,217.4 L563.9,217.7 L564.0,217.2 L564.1,218.0 L564.2,217.5 L564.2,218.0 L564.3,217.3 L564.3,217.7 L564.4,217.3 L564.5,217.9 L564.5,216.9 L564.6,217.8 L564.7,217.5 L564.7,217.7 L564.9,217.3 L565.0,217.7 L565.0,217.2 L565.1,218.1 L565.2,217.5 L565.2,217.8 L565.3,217.0 L565.3,217.8 L565.5,217.4 L565.5,217.9 L565.6,217.3 L565.6,217.5 L565.7,217.2 L565.7,217.9 L565.7,217.3 L565.8,217.6 L565.9,217.2 L566.0,217.7 L566.2,217.2 L566.3,218.0 L566.3,216.7 L566.4,217.8 L566.4,217.2 L566.5,217.9 L566.5,217.3 L566.5,217.8 L566.6,217.4 L566.7,218.0 L566.7,217.1 L566.7,218.0 L566.8,216.9 L567.1,217.8 L567.1,217.2 L567.2,217.9 L567.2,217.2 L567.3,217.9 L567.4,217.0 L567.5,217.9 L567.6,217.3 L567.6,217.2 L567.7,217.8 L567.8,217.1 L567.9,217.4 L567.9,217.2 L568.0,217.5 L568.1,216.9 L568.2,217.8 L568.3,217.0 L568.4,217.8 L568.5,216.8 L568.6,217.5 L568.7,216.5 L568.7,217.2 L568.9,217.0 L569.0,216.7 L569.0,216.8 L569.0,216.3 L569.1,216.8 L569.3,216.0 L569.3,216.5 L569.6,214.9 L569.9,209.4 L570.3,192.4 L570.4,193.1 L570.7,207.9 L571.1,215.0 L571.2,215.7 L571.2,215.2 L571.3,216.4 L571.4,216.1 L571.4,216.6 L571.5,216.2 L571.6,216.5 L571.6,216.2 L571.8,217.5 L571.8,216.5 L571.9,217.1 L572.0,216.8 L572.1,217.8 L572.1,217.2 L572.2,217.4 L572.3,217.0 L572.5,217.8 L572.5,217.1 L572.6,217.4 L572.6,216.9 L572.7,217.5 L572.7,216.7 L572.8,217.7 L572.8,217.3 L572.9,217.6 L573.0,217.2 L573.1,217.7 L573.1,217.2 L573.3,217.9 L573.4,216.8 L573.5,217.7 L573.5,217.4 L573.5,217.8 L573.6,217.3 L573.7,217.6 L573.8,217.2 L573.9,217.7 L574.1,217.1 L574.2,217.6 L574.3,217.4 L574.3,217.7 L574.4,217.3 L574.4,218.0 L574.5,217.1 L574.7,217.9 L574.7,217.1 L574.8,217.5 L574.9,217.0 L574.9,217.9 L575.1,217.0 L575.2,218.0 L575.2,217.5 L575.2,217.9 L575.3,217.5 L575.3,217.9 L575.4,217.3 L575.5,217.8 L575.5,217.2 L575.7,217.9 L575.7,217.2 L575.8,217.8 L575.8,217.3 L575.9,217.5 L576.0,217.3 L576.1,218.1 L576.2,217.0 L576.2,217.5 L576.3,217.5 L576.4,217.3 L576.4,217.8 L576.5,217.2 L576.5,218.2 L576.6,217.4 L576.6,218.3 L576.7,217.2 L576.8,217.9 L577.0,217.4 L577.0,217.5 L577.1,217.4 L577.2,218.1 L577.2,217.4 L577.3,217.8 L577.4,217.1 L577.5,217.8 L577.5,217.2 L577.6,217.7 L577.8,217.3 L577.9,217.9 L577.9,217.5 L578.0,217.6 L578.0,217.4 L578.1,217.7 L578.1,217.2 L578.2,217.7 L578.3,217.4 L578.4,217.7 L578.5,217.3 L578.6,218.0 L578.6,217.7 L578.7,217.8 L578.8,217.5 L578.8,217.9 L578.9,217.4 L579.0,218.1 L579.1,217.5 L579.1,218.1 L579.2,217.1 L579.2,217.8 L579.3,217.4 L579.4,217.6 L579.4,217.3 L579.5,217.8 L579.6,217.5 L579.6,217.7 L579.7,217.1 L579.7,217.7 L579.8,217.4 L579.8,217.9 L579.9,217.4 L580.0,218.0 L580.2,217.3 L580.3,217.9 L580.3,217.5 L580.5,217.8 L580.5,217.3 L580.6,217.8 L580.6,217.4 L580.6,217.6 L580.7,217.5 L580.7,218.0 L580.7,217.2 L580.9,217.8 L581.0,217.2 L581.1,217.8 L581.1,217.4 L581.2,217.9 L581.3,217.2 L581.4,217.6 L581.4,217.4 L581.5,217.8 L581.5,217.3 L581.5,217.8 L581.6,217.4 L581.8,217.9 L581.8,217.3 L581.9,217.9 L582.0,217.4 L582.0,217.8 L582.1,217.2 L582.2,218.0 L582.2,217.4 L582.3,217.8 L582.3,217.5 L582.4,217.7 L582.4,217.2 L582.5,217.7 L582.6,217.2 L582.8,217.8 L582.8,217.1 L582.8,217.7 L582.9,217.2 L582.9,217.8 L583.0,217.4 L583.0,218.2 L583.1,217.7 L583.2,218.0 L583.3,217.5 L583.3,218.1 L583.3,217.4 L583.4,218.0 L583.5,217.3 L583.5,217.9 L583.6,217.1 L583.7,217.7 L583.8,217.7 L583.8,217.5 L583.8,218.0 L583.9,217.3 L584.0,217.9 L584.1,217.0 L584.1,217.8 L584.2,217.2 L584.3,218.0 L584.3,217.3 L584.6,217.9 L584.6,217.5 L584.7,217.8 L584.7,217.4 L584.7,217.6 L584.9,217.6 L584.9,217.3 L585.1,218.0 L585.1,217.0 L585.1,217.8 L585.2,217.1 L585.2,217.8 L585.3,217.4 L585.4,217.9 L585.5,216.9 L585.6,217.9 L585.8,217.3 L585.9,218.2 L585.9,217.4 L586.0,217.5 L586.0,217.3 L586.1,217.4 L586.1,217.3 L586.2,217.9 L586.2,217.5 L586.3,217.9 L586.4,217.5 L586.5,217.8 L586.5,217.0 L586.5,217.9 L586.6,217.3 L586.7,217.8 L586.7,217.3 L587.0,217.9 L587.1,217.3 L587.2,217.7 L587.3,217.2 L587.4,218.0 L587.4,217.5 L587.5,218.3 L587.5,217.8 L587.7,217.4 L587.7,217.7 L587.8,217.2 L587.9,217.8 L587.9,217.6 L588.0,217.8 L588.1,217.2 L588.1,217.8 L588.2,217.9 L588.2,217.4 L588.3,217.8 L588.5,217.1 L588.5,217.8 L588.6,217.3 L588.6,217.8 L588.7,217.2 L588.8,217.7 L588.8,217.4 L588.9,217.9 L588.9,217.3 L589.0,217.6 L589.1,217.3 L589.1,217.8 L589.2,216.9 L589.3,217.7 L589.3,217.3 L589.4,217.8 L589.4,217.4 L589.4,217.7 L589.5,217.4 L589.5,217.7 L589.6,217.3 L589.6,217.9 L589.7,217.5 L589.8,217.7 L589.8,217.2 L589.9,217.7 L589.9,217.3 L589.9,217.8 L590.0,217.6 L590.1,218.0 L590.1,217.4 L590.3,217.9 L590.3,217.4 L590.4,217.8 L590.5,217.2 L590.5,217.9 L590.6,217.6 L590.7,218.1 L590.7,217.5 L590.8,217.9 L590.8,217.6 L590.9,217.9 L590.9,217.5 L591.0,217.7 L591.0,217.1 L591.1,217.5 L591.1,217.1 L591.2,217.9 L591.2,217.4 L591.3,217.8 L591.3,217.4 L591.5,217.9 L591.5,217.4 L591.6,217.9 L591.7,217.5 L591.7,218.0 L591.8,217.4 L591.8,217.9 L591.9,217.3 L592.0,218.4 L592.0,217.5 L592.1,217.9 L592.2,217.1 L592.2,217.9 L592.3,217.4 L592.4,217.9 L592.4,217.7 L592.5,217.8 L592.5,218.4 L592.6,217.2 L592.6,217.8 L592.7,217.3 L592.8,217.8 L592.9,217.5 L592.9,217.9 L593.0,217.5 L593.1,218.2 L593.1,217.1 L593.2,217.7 L593.2,217.2 L593.3,217.7 L593.4,217.3 L593.4,217.9 L593.5,217.3 L593.7,218.1 L593.9,217.2 L594.0,218.0 L594.1,217.3 L594.2,218.0 L594.2,218.1 L594.3,217.6 L594.3,218.0 L594.4,217.7 L594.4,218.2 L594.4,217.6 L594.5,217.8 L594.5,217.6 L594.6,217.9 L594.7,217.5 L594.7,218.2 L594.8,217.5 L594.8,217.9 L594.9,217.7 L594.9,217.8 L595.0,218.3 L595.0,217.4 L595.2,218.3 L595.2,217.6 L595.3,218.1 L595.3,217.9 L595.4,218.4 L595.4,218.1 L595.5,218.6 L595.5,218.1 L595.6,219.3 L595.7,218.7 L595.9,220.0 L595.9,219.7 L596.2,221.6 L596.2,220.9 L596.4,222.4 L596.4,221.8 L596.6,222.4 L596.7,221.6 L596.8,221.8 L596.8,220.7 L596.9,221.5 L596.9,220.5 L597.0,220.6 L597.1,220.4 L597.3,218.7 L597.4,218.9 L597.5,218.3 L597.6,218.9 L597.7,217.9 L597.8,218.3 L597.9,217.7 L598.0,218.2 L598.1,217.5 L598.2,217.8 L598.2,217.6 L598.2,217.8 L598.3,217.6 L598.4,218.1 L598.5,217.6 L598.6,218.2 L598.7,217.5 L598.8,218.0 L598.9,217.0 L598.9,218.2 L599.0,217.4 L599.0,217.8 L599.1,217.6 L599.2,217.6 L599.3,218.1 L599.3,217.4 L599.4,218.1 L599.4,217.6 L599.5,218.1 L599.5,217.5 L599.6,217.9 L599.7,217.6 L599.8,218.1 L599.8,217.4 L599.9,217.9 L599.9,217.3 L600.0,218.2 L600.1,217.4 L600.1,218.1 L600.2,217.4 L600.3,217.9 L600.3,217.1 L600.4,217.8 L600.4,217.2 L600.4,217.9 L600.6,217.4 L600.7,218.0 L600.8,217.5 L600.9,218.1 L601.0,217.4 L601.0,218.2 L601.1,217.1 L601.1,217.8 L601.2,217.4 L601.3,217.9 L601.4,217.5 L601.5,218.1 L601.5,217.7 L601.6,217.7 L601.7,217.6 L601.7,218.0 L601.8,217.4 L602.0,217.8 L602.1,217.5 L602.2,217.7 L602.2,217.3 L602.3,218.0 L602.3,217.1 L602.4,217.8 L602.5,217.0 L602.5,218.0 L602.6,217.5 L602.7,218.0 L602.7,217.4 L602.9,218.1 L603.0,217.6 L603.2,217.9 L603.2,217.3 L603.3,217.9 L603.4,217.2 L603.5,217.8 L603.7,217.4 L603.8,218.1 L603.8,217.3 L604.0,217.7 L604.0,217.5 L604.1,217.7 L604.1,217.4 L604.2,217.8 L604.2,217.5 L604.3,218.2 L604.4,217.3 L604.4,217.9 L604.5,217.7 L604.6,218.1 L604.7,217.6 L604.7,218.1 L604.8,217.4 L604.9,217.7 L604.9,217.3 L605.0,218.0 L605.1,217.3 L605.2,217.9 L605.2,217.4 L605.3,217.9 L605.4,217.6 L605.5,218.4 L605.5,217.5 L605.5,218.0 L605.6,217.6 L605.7,218.3 L605.8,217.2 L605.8,218.0 L605.9,217.5 L605.9,217.8 L606.0,217.5 L606.0,217.7 L606.0,217.6 L606.1,217.9 L606.2,217.2 L606.2,217.6 L606.3,217.0 L606.4,217.9 L606.5,217.2 L606.6,217.8 L606.7,217.3 L606.7,218.0 L606.8,217.4 L606.8,218.0 L606.9,217.4 L607.0,217.8 L607.1,217.2 L607.1,218.0 L607.1,217.5 L607.2,217.8 L607.3,217.5 L607.4,217.8 L607.5,217.5 L607.5,217.8 L607.5,217.4 L607.6,217.7 L607.6,217.4 L607.7,217.6 L607.8,217.4 L607.8,217.9 L607.9,217.3 L608.0,217.8 L608.1,217.7 L608.1,217.9 L608.1,217.6 L608.3,218.0 L608.4,217.3 L608.5,217.8 L608.6,217.3 L608.6,217.9 L608.7,217.7 L608.8,217.9 L608.8,217.3 L608.9,217.7 L608.9,217.1 L609.0,217.8 L609.0,217.3 L609.1,217.6 L609.1,217.2 L609.1,218.2 L609.2,217.2 L609.3,217.7 L609.4,217.3 L609.4,217.9 L609.4,217.3 L609.5,217.7 L609.7,217.3 L609.7,217.8 L609.8,217.3 L609.8,218.1 L609.9,217.1 L610.0,217.9 L610.1,217.3 L610.2,218.0 L610.3,217.4 L610.4,217.8 L610.4,217.3 L610.5,218.0 L610.6,217.6 L610.6,218.1 L610.6,217.5 L610.7,217.7 L610.8,217.4 L611.0,218.1 L611.0,217.2 L611.1,218.0 L611.1,217.3 L611.2,217.6 L611.2,217.2 L611.3,217.6 L611.3,217.1 L611.4,218.1 L611.5,217.3 L611.5,217.7 L611.6,217.3 L611.6,217.8 L611.7,217.6 L611.7,217.8 L611.8,217.3 L611.8,217.8 L611.9,217.2 L611.9,217.9 L612.0,217.3 L612.0,217.8 L612.1,216.9 L612.2,217.5 L612.2,217.7 L612.3,217.5 L612.3,217.8 L612.5,217.2 L612.5,218.2 L612.6,217.5 L612.6,218.0 L612.7,217.6 L612.8,218.2 L612.8,217.4 L612.9,218.2 L613.0,217.2 L613.0,217.6 L613.1,217.4 L613.2,218.1 L613.2,217.4 L613.3,217.9 L613.5,217.4 L613.6,217.8 L613.7,217.2 L613.8,218.0 L613.9,217.5 L613.9,217.7 L614.0,217.6 L614.0,218.3 L614.0,217.5 L614.1,217.8 L614.1,217.5 L614.2,217.7 L614.2,217.2 L614.3,218.0 L614.3,217.3 L614.4,217.9 L614.5,217.5 L614.5,218.3 L614.7,217.4 L614.8,218.0 L614.9,217.6 L614.9,217.9 L614.9,217.7 L615.0,217.9 L615.1,217.2 L615.1,218.2 L615.2,217.3 L615.2,217.8 L615.3,217.4 L615.3,217.8 L615.5,217.2 L615.6,217.8 L615.6,217.5 L615.7,217.8 L615.8,217.2 L615.9,217.9 L616.1,217.2 L616.2,218.0 L616.3,217.5 L616.3,217.9 L616.4,217.8 L616.4,217.3 L616.5,217.8 L616.5,217.3 L616.5,217.7 L616.6,217.1 L616.7,217.7 L616.8,217.4 L616.9,217.7 L616.9,217.2 L617.0,218.1 L617.1,217.5 L617.2,217.8 L617.3,217.6 L617.3,218.0 L617.3,217.7 L617.4,217.9 L617.4,217.2 L617.5,217.8 L617.6,217.4 L617.6,217.9 L617.6,217.4 L617.7,217.7 L617.8,217.1 L617.8,217.8 L618.0,217.3 L618.1,217.7 L618.1,217.2 L618.2,217.8 L618.3,217.3 L618.3,218.1 L618.4,216.8 L618.5,217.9 L618.5,217.1 L618.6,217.7 L618.7,217.1 L618.9,218.2 L618.9,217.2 L619.1,218.1 L619.2,217.1 L619.3,217.9 L619.3,217.2 L619.4,217.8 L619.5,217.4 L619.6,218.0 L619.6,217.4 L619.6,217.9 L619.8,217.2 L619.9,217.9 L620.0,217.2 L620.3,217.9 L620.3,217.2 L620.4,218.0 L620.4,217.2 L620.6,218.1 L620.6,217.3 L620.7,218.1 L620.8,217.6 L620.8,218.0 L620.8,217.7 L620.9,217.8 L621.0,217.5 L621.0,217.9 L621.1,217.4 L621.1,217.8 L621.2,217.4 L621.2,217.8 L621.2,217.5 L621.3,217.9 L621.4,217.3 L621.5,218.1 L621.6,217.3 L621.7,217.9 L621.9,217.4 L622.0,217.8 L622.0,217.3 L622.0,217.8 L622.1,217.2 L622.2,218.0 L622.2,217.2 L622.3,217.9 L622.5,217.0 L622.5,217.6 L622.6,216.9 L622.7,218.0 L622.8,217.1 L622.8,217.9 L622.9,217.6 L623.0,217.8 L623.0,217.4 L623.0,217.7 L623.1,217.4 L623.2,217.9 L623.2,217.7 L623.3,217.9 L623.3,217.4 L623.3,218.1 L623.4,217.4 L623.5,217.9 L623.6,217.4 L623.7,217.9 L623.7,217.3 L623.8,217.8 L623.8,217.2 L623.9,217.7 L624.0,217.4 L624.1,217.7 L624.1,217.3 L624.2,217.9 L624.2,217.6 L624.3,217.8 L624.4,217.6 L624.5,218.0 L624.5,216.9 L624.5,217.4 L624.6,217.0 L624.7,217.7 L624.8,217.2 L624.9,217.7 L624.9,217.2 L625.0,218.5 L625.0,217.4 L625.1,218.0 L625.2,217.5 L625.4,217.8 L625.4,217.4 L625.4,217.7 L625.5,217.4 L625.6,217.9 L625.6,217.6 L625.8,217.5 L625.8,217.1 L625.8,217.7 L625.9,217.4 L626.0,217.8 L626.0,217.6 L626.2,217.9 L626.3,217.7 L626.3,217.9 L626.4,217.2 L626.5,218.0 L626.6,217.5 L626.7,217.8 L626.8,217.4 L626.8,217.9 L626.8,217.2 L627.0,217.7 L627.0,217.1 L627.2,218.1 L627.3,217.4 L627.4,218.2 L627.4,217.1 L627.5,217.8 L627.6,217.6 L627.7,218.2 L627.8,217.4 L627.8,217.8 L627.9,217.2 L627.9,217.8 L627.9,217.5 L628.0,217.9 L628.2,217.0 L628.3,217.7 L628.4,217.2 L628.5,217.8 L628.5,217.1 L628.6,217.8 L628.7,217.3 L628.7,217.7 L628.8,217.4 L628.9,217.7 L628.9,217.2 L628.9,217.7 L629.0,217.6 L629.0,217.9 L629.1,217.4 L629.1,217.9 L629.2,217.4 L629.4,218.1 L629.4,217.3 L629.4,217.9 L629.5,217.4 L629.6,218.0 L629.6,217.2 L629.7,217.8 L629.8,217.3 L629.8,217.9 L629.9,217.4 L629.9,217.7 L630.0,217.8 L630.1,217.3 L630.2,217.9 L630.2,217.4 L630.4,217.5 L630.4,218.0 L630.5,217.6 L630.5,217.9 L630.5,217.5 L630.6,217.6 L630.7,217.3 L630.7,217.8 L630.9,217.1 L630.9,217.7 L631.1,217.1 L631.1,217.7 L631.1,217.0 L631.2,218.0 L631.3,217.3 L631.3,218.1 L631.4,217.5 L631.4,218.2 L631.5,217.3 L631.5,217.6 L631.5,217.4 L631.6,217.6 L631.6,217.5 L631.6,217.7 L631.7,217.5 L631.8,217.8 L631.9,217.4 L632.1,218.2 L632.2,217.2 L632.2,217.8 L632.3,217.7 L632.4,217.7 L632.4,217.2 L632.5,217.7 L632.6,217.2 L632.7,218.0 L632.7,217.5 L632.7,217.7 L632.9,217.5 L633.0,217.8 L633.0,217.1 L633.1,217.8 L633.1,217.6 L633.1,217.9 L633.2,217.7 L633.3,218.0 L633.4,217.3 L633.4,218.0 L633.6,217.4 L633.6,217.9 L633.7,217.5 L633.8,217.9 L634.0,217.4 L634.1,217.9 L634.2,217.2 L634.2,218.0 L634.3,217.1 L634.4,217.9 L634.4,217.4 L634.4,217.7 L634.5,217.5 L634.6,217.7 L634.6,217.4 L634.7,217.8 L634.7,217.1 L634.8,217.7 L634.8,217.4 L635.0,218.0 L635.1,217.2 L635.2,217.9 L635.3,217.3 L635.3,217.8 L635.5,217.4 L635.5,218.0 L635.6,217.3 L635.7,218.2 L635.7,217.8 L635.8,217.9 L635.9,217.6 L636.0,217.8 L636.0,217.4 L636.1,217.8 L636.3,217.2 L636.3,217.9 L636.5,217.2 L636.6,217.8 L636.7,217.0 L636.7,218.1 L636.8,217.4 L636.8,217.8 L636.9,217.5 L637.0,217.6 L637.0,218.2 L637.1,217.7 L637.2,218.0 L637.2,217.1 L637.3,217.9 L637.5,217.3 L637.7,218.1 L637.7,217.5 L637.8,218.2 L637.8,217.3 L637.9,217.7 L637.9,217.3 L638.0,218.0 L638.0,217.2" fill="none" stroke="#111" stroke-width="1.15" stroke-linejoin="round" />
</g>
<rect x="365.8" y="12.2" width="272.8" height="229.3" fill="none" stroke="#8a8a8a" stroke-width="1.3"/>
<line x1="400.00" y1="241.5" x2="400.00" y2="237.1" stroke="#555" stroke-width="1.1"/>
<text x="400.00" y="263" font-size="20" text-anchor="middle">20</text>
<line x1="434.00" y1="241.5" x2="434.00" y2="239.1" stroke="#555" stroke-width="1.1"/>
<line x1="468.00" y1="241.5" x2="468.00" y2="237.1" stroke="#555" stroke-width="1.1"/>
<text x="468.00" y="263" font-size="20" text-anchor="middle">40</text>
<line x1="502.00" y1="241.5" x2="502.00" y2="239.1" stroke="#555" stroke-width="1.1"/>
<line x1="536.00" y1="241.5" x2="536.00" y2="237.1" stroke="#555" stroke-width="1.1"/>
<text x="536.00" y="263" font-size="20" text-anchor="middle">60</text>
<line x1="570.00" y1="241.5" x2="570.00" y2="239.1" stroke="#555" stroke-width="1.1"/>
<line x1="604.00" y1="241.5" x2="604.00" y2="237.1" stroke="#555" stroke-width="1.1"/>
<text x="604.00" y="263" font-size="20" text-anchor="middle">80</text>
<text x="329.2" y="28.8" font-size="40">b</text>
<circle cx="498.2" cy="22.5" r="2.9" fill="none" stroke="#d0416f" stroke-width="1.1"/>
<text id="yobs" x="517.61" y="27.8" font-size="17" textLength="30.63" lengthAdjust="spacing" >Y<tspan font-size="12.3" dy="3.6">obs</tspan></text>
<line x1="556.6" y1="23.2" x2="595.6" y2="23.2" stroke="#7b5ea6" stroke-width="1.4"/>
<text id="ycalc" x="600.02" y="28.7" font-size="17" textLength="32.66" lengthAdjust="spacing" >Y<tspan font-size="12.3" dy="5">calc</tspan></text>
<line x1="461" y1="44" x2="461" y2="52.7" stroke="#1a9898" stroke-width="1.4"/>
<text id="leg1" x="480.14" y="53.5" font-size="16.8" textLength="85.42" lengthAdjust="spacing" >LiMnSbTe<tspan font-size="12" dy="4.5">3</tspan></text>
<text id="leg2" x="567.69" y="53.5" font-size="16.8" textLength="67.00" lengthAdjust="spacing" >(<tspan font-style="italic">Fm-3m</tspan>)</text>
<text id="rwp" x="493.89" y="88.4" font-size="17" textLength="136.62" lengthAdjust="spacing" >R<tspan font-size="12.5" dy="4">wp</tspan><tspan dy="-4">: 8.76 R</tspan><tspan font-size="12.5" dy="4">p</tspan><tspan dy="-4">: 5.74</tspan></text>
<text id="rexp" x="493.89" y="116" font-size="17" textLength="73.02" lengthAdjust="spacing" >R<tspan font-size="12.5" dy="4">exp</tspan><tspan dy="-4">: 3.41</tspan></text>
<text id="ydiff" x="366.55" y="232.9" font-size="17" textLength="62.88" lengthAdjust="spacing" >Y<tspan font-size="12.3" dy="4.6">obs</tspan><tspan dy="-4.6">-Y</tspan><tspan font-size="12.3" dy="4.6">cal</tspan></text>
<text id="xb2" x="455.99" y="290.2" font-size="25" textLength="14.94" lengthAdjust="spacing" >2</text>
<text id="xbth" x="471.22" y="291.0" font-size="26" textLength="20.14" lengthAdjust="spacing" font-style="italic">θ</text>
<text id="xbdeg" x="489.83" y="290.2" font-size="25" textLength="69.23" lengthAdjust="spacing" >(Deg.)</text>
<text transform="translate(350.2,160.0) rotate(-90)" font-size="24.6" textLength="71" lengthAdjust="spacing"><tspan font-style="italic">I</tspan> (a.u.)</text>
<rect x="4" y="338" width="202" height="212" fill="#fdfdfd"/>
<rect x="216.5" y="338.5" width="214" height="196" fill="#fdfdfd"/>
<rect x="448" y="338" width="234" height="199" fill="#fdfdfd"/>
<line x1="51.80" y1="372.20" x2="142.20" y2="371.70" stroke="#9a9a9a" stroke-width="0.85"/>
<line x1="89.10" y1="355.30" x2="179.60" y2="354.90" stroke="#9a9a9a" stroke-width="0.85"/>
<line x1="50.40" y1="515.50" x2="140.80" y2="515.50" stroke="#9a9a9a" stroke-width="0.85"/>
<line x1="87.20" y1="498.80" x2="178.20" y2="498.20" stroke="#9a9a9a" stroke-width="0.85"/>
<line x1="51.80" y1="372.20" x2="50.40" y2="515.50" stroke="#9a9a9a" stroke-width="0.85"/>
<line x1="142.20" y1="371.70" x2="140.80" y2="515.50" stroke="#9a9a9a" stroke-width="0.85"/>
<line x1="89.10" y1="355.30" x2="87.20" y2="498.80" stroke="#9a9a9a" stroke-width="0.85"/>
<line x1="179.60" y1="354.90" x2="178.20" y2="498.20" stroke="#9a9a9a" stroke-width="0.85"/>
<line x1="51.80" y1="372.20" x2="89.10" y2="355.30" stroke="#c4c4c4" stroke-width="0.7" stroke-dasharray="2,3"/>
<line x1="142.20" y1="371.70" x2="179.60" y2="354.90" stroke="#c4c4c4" stroke-width="0.7" stroke-dasharray="2,3"/>
<line x1="50.40" y1="515.50" x2="87.20" y2="498.80" stroke="#c4c4c4" stroke-width="0.7" stroke-dasharray="2,3"/>
<line x1="140.80" y1="515.50" x2="178.20" y2="498.20" stroke="#c4c4c4" stroke-width="0.7" stroke-dasharray="2,3"/>
<circle cx="89.10" cy="355.30" r="11.80" fill="#b6a38f"/><circle cx="89.10" cy="355.30" r="11.80" fill="url(#shade)"/>
<circle cx="179.60" cy="354.90" r="11.80" fill="#b6a38f"/><circle cx="179.60" cy="354.90" r="11.80" fill="url(#shade)"/>
<circle cx="87.80" cy="428.00" r="11.80" fill="#b6a38f"/><circle cx="87.80" cy="428.00" r="11.80" fill="url(#shade)"/>
<circle cx="178.90" cy="426.80" r="11.80" fill="#b6a38f"/><circle cx="178.90" cy="426.80" r="11.80" fill="url(#shade)"/>
<circle cx="87.20" cy="498.80" r="11.80" fill="#b6a38f"/><circle cx="87.20" cy="498.80" r="11.80" fill="url(#shade)"/>
<circle cx="178.20" cy="498.20" r="11.80" fill="#b6a38f"/><circle cx="178.20" cy="498.20" r="11.80" fill="url(#shade)"/>
<circle cx="94.00" cy="402.50" r="11.80" fill="#e20e0e"/><circle cx="94.00" cy="402.50" r="11.80" fill="url(#shadeTe)"/>
<circle cx="51.80" cy="372.20" r="11.80" fill="#a2896f"/><circle cx="51.80" cy="372.20" r="11.80" fill="url(#shade)"/>
<circle cx="142.20" cy="371.70" r="11.80" fill="#a2896f"/><circle cx="142.20" cy="371.70" r="11.80" fill="url(#shade)"/>
<circle cx="51.10" cy="444.20" r="11.80" fill="#a2896f"/><circle cx="51.10" cy="444.20" r="11.80" fill="url(#shade)"/>
<circle cx="141.70" cy="443.70" r="11.80" fill="#a2896f"/><circle cx="141.70" cy="443.70" r="11.80" fill="url(#shade)"/>
<circle cx="50.40" cy="515.50" r="11.80" fill="#a2896f"/><circle cx="50.40" cy="515.50" r="11.80" fill="url(#shade)"/>
<circle cx="140.80" cy="515.50" r="11.80" fill="#a2896f"/><circle cx="140.80" cy="515.50" r="11.80" fill="url(#shade)"/>
<circle cx="135.80" cy="468.40" r="11.80" fill="#e41c1c"/><circle cx="135.80" cy="468.40" r="11.80" fill="url(#shadeTe)"/>
<line x1="141.6" y1="457" x2="141.2" y2="480" stroke="#700" stroke-opacity="0.35" stroke-width="0.8"/>
<line x1="305.32" y1="366.58" x2="305.03" y2="405.03" stroke="#555" stroke-width="0.9"/>
<line x1="304.87" y1="425.27" x2="304.58" y2="463.72" stroke="#555" stroke-width="0.9"/>
<path d="M305.40,356.00 L305.40,344.50 A11.50,11.50 0 0 0 305.40,367.50 Z" fill="#829791"/><path d="M305.40,356.00 L305.40,367.50 A11.50,11.50 0 0 0 305.40,344.50 Z" fill="#e8a375"/><circle cx="305.40" cy="356.00" r="11.50" fill="url(#shade)"/>
<circle cx="304.95" cy="415.15" r="11.00" fill="#ea4f4f"/><circle cx="304.95" cy="415.15" r="11.00" fill="url(#shadeTe)"/>
<path d="M304.50,474.30 L304.50,462.80 A11.50,11.50 0 0 0 304.50,485.80 Z" fill="#829791"/><path d="M304.50,474.30 L304.50,485.80 A11.50,11.50 0 0 0 304.50,462.80 Z" fill="#e8a375"/><circle cx="304.50" cy="474.30" r="11.50" fill="url(#shade)"/>
<line x1="315.90" y1="357.26" x2="351.05" y2="361.47" stroke="#555" stroke-width="0.9"/>
<line x1="315.00" y1="475.56" x2="350.15" y2="479.77" stroke="#555" stroke-width="0.9"/>
<line x1="288.79" y1="365.04" x2="296.11" y2="361.06" stroke="#555" stroke-width="0.9"/>
<line x1="287.89" y1="483.34" x2="295.21" y2="479.36" stroke="#555" stroke-width="0.9"/>
<circle cx="361.10" cy="362.68" r="11.00" fill="#e84040"/><circle cx="361.10" cy="362.68" r="11.00" fill="url(#shadeTe)"/>
<path d="M360.65,421.82 L360.65,410.32 A11.50,11.50 0 0 0 360.65,433.32 Z" fill="#768c86"/><path d="M360.65,421.82 L360.65,433.32 A11.50,11.50 0 0 0 360.65,410.32 Z" fill="#e69a67"/><circle cx="360.65" cy="421.82" r="11.50" fill="url(#shade)"/>
<circle cx="360.20" cy="480.98" r="11.00" fill="#e84040"/><circle cx="360.20" cy="480.98" r="11.00" fill="url(#shadeTe)"/>
<line x1="371.15" y1="363.88" x2="406.30" y2="368.09" stroke="#555" stroke-width="0.9"/>
<line x1="370.25" y1="482.18" x2="405.40" y2="486.39" stroke="#555" stroke-width="0.9"/>
<line x1="416.72" y1="379.93" x2="416.43" y2="418.38" stroke="#555" stroke-width="0.9"/>
<line x1="416.27" y1="438.62" x2="415.98" y2="477.07" stroke="#555" stroke-width="0.9"/>
<circle cx="279.90" cy="369.88" r="11.00" fill="#e52828"/><circle cx="279.90" cy="369.88" r="11.00" fill="url(#shadeTe)"/>
<path d="M279.45,429.02 L279.45,417.52 A11.50,11.50 0 0 0 279.45,440.52 Z" fill="#627c75"/><path d="M279.45,429.02 L279.45,440.52 A11.50,11.50 0 0 0 279.45,417.52 Z" fill="#e28c52"/><circle cx="279.45" cy="429.02" r="11.50" fill="url(#shade)"/>
<circle cx="279.00" cy="488.18" r="11.00" fill="#e52828"/><circle cx="279.00" cy="488.18" r="11.00" fill="url(#shadeTe)"/>
<path d="M416.80,369.35 L416.80,357.85 A11.50,11.50 0 0 0 416.80,380.85 Z" fill="#69827b"/><path d="M416.80,369.35 L416.80,380.85 A11.50,11.50 0 0 0 416.80,357.85 Z" fill="#e3915a"/><circle cx="416.80" cy="369.35" r="11.50" fill="url(#shade)"/>
<circle cx="416.35" cy="428.50" r="11.00" fill="#e63131"/><circle cx="416.35" cy="428.50" r="11.00" fill="url(#shadeTe)"/>
<path d="M415.90,487.65 L415.90,476.15 A11.50,11.50 0 0 0 415.90,499.15 Z" fill="#69827b"/><path d="M415.90,487.65 L415.90,499.15 A11.50,11.50 0 0 0 415.90,476.15 Z" fill="#e3915a"/><circle cx="415.90" cy="487.65" r="11.50" fill="url(#shade)"/>
<line x1="263.69" y1="378.69" x2="271.01" y2="374.71" stroke="#555" stroke-width="0.9"/>
<line x1="262.79" y1="496.99" x2="270.11" y2="493.01" stroke="#555" stroke-width="0.9"/>
<line x1="400.19" y1="378.39" x2="407.51" y2="374.41" stroke="#555" stroke-width="0.9"/>
<line x1="399.29" y1="496.69" x2="406.61" y2="492.71" stroke="#555" stroke-width="0.9"/>
<path d="M335.60,376.55 L335.60,365.05 A11.50,11.50 0 0 0 335.60,388.05 Z" fill="#56716a"/><path d="M335.60,376.55 L335.60,388.05 A11.50,11.50 0 0 0 335.60,365.05 Z" fill="#e08344"/><circle cx="335.60" cy="376.55" r="11.50" fill="url(#shade)"/>
<circle cx="335.15" cy="435.70" r="11.00" fill="#e31919"/><circle cx="335.15" cy="435.70" r="11.00" fill="url(#shadeTe)"/>
<path d="M334.70,494.85 L334.70,483.35 A11.50,11.50 0 0 0 334.70,506.35 Z" fill="#56716a"/><path d="M334.70,494.85 L334.70,506.35 A11.50,11.50 0 0 0 334.70,483.35 Z" fill="#e08344"/><circle cx="334.70" cy="494.85" r="11.50" fill="url(#shade)"/>
<line x1="254.32" y1="394.33" x2="254.03" y2="432.78" stroke="#555" stroke-width="0.9"/>
<line x1="253.87" y1="453.02" x2="253.58" y2="491.47" stroke="#555" stroke-width="0.9"/>
<path d="M254.40,383.75 L254.40,372.25 A11.50,11.50 0 0 0 254.40,395.25 Z" fill="#4d6a62"/><path d="M254.40,383.75 L254.40,395.25 A11.50,11.50 0 0 0 254.40,372.25 Z" fill="#de7c3a"/><circle cx="254.40" cy="383.75" r="11.50" fill="url(#shade)"/>
<circle cx="253.95" cy="442.90" r="11.00" fill="#e20e0e"/><circle cx="253.95" cy="442.90" r="11.00" fill="url(#shadeTe)"/>
<path d="M253.50,502.05 L253.50,490.55 A11.50,11.50 0 0 0 253.50,513.55 Z" fill="#4d6a62"/><path d="M253.50,502.05 L253.50,513.55 A11.50,11.50 0 0 0 253.50,490.55 Z" fill="#de7c3a"/><circle cx="253.50" cy="502.05" r="11.50" fill="url(#shade)"/>
<circle cx="391.30" cy="383.23" r="11.00" fill="#e20e0e"/><circle cx="391.30" cy="383.23" r="11.00" fill="url(#shadeTe)"/>
<path d="M390.85,442.38 L390.85,430.88 A11.50,11.50 0 0 0 390.85,453.88 Z" fill="#4d6a62"/><path d="M390.85,442.38 L390.85,453.88 A11.50,11.50 0 0 0 390.85,430.88 Z" fill="#de7c3a"/><circle cx="390.85" cy="442.38" r="11.50" fill="url(#shade)"/>
<circle cx="390.40" cy="501.53" r="11.00" fill="#e20e0e"/><circle cx="390.40" cy="501.53" r="11.00" fill="url(#shadeTe)"/>
<line x1="264.90" y1="385.01" x2="300.05" y2="389.22" stroke="#555" stroke-width="0.9"/>
<line x1="264.00" y1="503.31" x2="299.15" y2="507.52" stroke="#555" stroke-width="0.9"/>
<line x1="375.09" y1="392.04" x2="382.41" y2="388.06" stroke="#555" stroke-width="0.9"/>
<line x1="374.19" y1="510.34" x2="381.51" y2="506.36" stroke="#555" stroke-width="0.9"/>
<circle cx="310.10" cy="390.43" r="11.00" fill="#e20e0e"/><circle cx="310.10" cy="390.43" r="11.00" fill="url(#shadeTe)"/>
<path d="M309.65,449.57 L309.65,438.07 A11.50,11.50 0 0 0 309.65,461.07 Z" fill="#4d6a62"/><path d="M309.65,449.57 L309.65,461.07 A11.50,11.50 0 0 0 309.65,438.07 Z" fill="#de7c3a"/><circle cx="309.65" cy="449.57" r="11.50" fill="url(#shade)"/>
<circle cx="309.20" cy="508.73" r="11.00" fill="#e20e0e"/><circle cx="309.20" cy="508.73" r="11.00" fill="url(#shadeTe)"/>
<line x1="320.15" y1="391.63" x2="355.30" y2="395.84" stroke="#555" stroke-width="0.9"/>
<line x1="319.25" y1="509.93" x2="354.40" y2="514.14" stroke="#555" stroke-width="0.9"/>
<line x1="365.72" y1="407.68" x2="365.43" y2="446.13" stroke="#555" stroke-width="0.9"/>
<line x1="365.27" y1="466.37" x2="364.98" y2="504.82" stroke="#555" stroke-width="0.9"/>
<path d="M365.80,397.10 L365.80,385.60 A11.50,11.50 0 0 0 365.80,408.60 Z" fill="#4d6a62"/><path d="M365.80,397.10 L365.80,408.60 A11.50,11.50 0 0 0 365.80,385.60 Z" fill="#de7c3a"/><circle cx="365.80" cy="397.10" r="11.50" fill="url(#shade)"/>
<circle cx="365.35" cy="456.25" r="11.00" fill="#e20e0e"/><circle cx="365.35" cy="456.25" r="11.00" fill="url(#shadeTe)"/>
<path d="M364.90,515.40 L364.90,503.90 A11.50,11.50 0 0 0 364.90,526.90 Z" fill="#4d6a62"/><path d="M364.90,515.40 L364.90,526.90 A11.50,11.50 0 0 0 364.90,503.90 Z" fill="#de7c3a"/><circle cx="364.90" cy="515.40" r="11.50" fill="url(#shade)"/>
<line x1="545.61" y1="368.10" x2="545.24" y2="408.01" stroke="#555" stroke-width="0.9"/>
<line x1="545.06" y1="427.89" x2="544.69" y2="467.80" stroke="#555" stroke-width="0.9"/>
<path d="M545.70,357.70 L545.70,346.40 A11.30,11.30 0 0 0 535.91,363.35 Z" fill="#c2b1a1"/><path d="M545.70,357.70 L555.49,363.35 A11.30,11.30 0 0 0 545.70,346.40 Z" fill="#e9a375"/><path d="M545.70,357.70 L535.91,363.35 A11.30,11.30 0 0 0 555.49,363.35 Z" fill="#819791"/><circle cx="545.70" cy="357.70" r="11.30" fill="url(#shade)"/>
<circle cx="545.15" cy="417.95" r="10.80" fill="#ea4f4f"/><circle cx="545.15" cy="417.95" r="10.80" fill="url(#shadeTe)"/>
<path d="M544.60,478.20 L544.60,466.90 A11.30,11.30 0 0 0 534.81,483.85 Z" fill="#c2b1a1"/><path d="M544.60,478.20 L554.39,483.85 A11.30,11.30 0 0 0 544.60,466.90 Z" fill="#e9a375"/><path d="M544.60,478.20 L534.81,483.85 A11.30,11.30 0 0 0 554.39,483.85 Z" fill="#819791"/><circle cx="544.60" cy="478.20" r="11.30" fill="url(#shade)"/>
<line x1="556.02" y1="359.00" x2="592.79" y2="363.61" stroke="#555" stroke-width="0.9"/>
<line x1="554.92" y1="479.50" x2="591.69" y2="484.11" stroke="#555" stroke-width="0.9"/>
<line x1="528.50" y1="366.69" x2="536.49" y2="362.52" stroke="#555" stroke-width="0.9"/>
<line x1="527.40" y1="487.19" x2="535.39" y2="483.02" stroke="#555" stroke-width="0.9"/>
<circle cx="602.65" cy="364.85" r="10.80" fill="#e84040"/><circle cx="602.65" cy="364.85" r="10.80" fill="url(#shadeTe)"/>
<path d="M602.10,425.10 L602.10,413.80 A11.30,11.30 0 0 0 592.31,430.75 Z" fill="#bcaa98"/><path d="M602.10,425.10 L611.89,430.75 A11.30,11.30 0 0 0 602.10,413.80 Z" fill="#e69967"/><path d="M602.10,425.10 L592.31,430.75 A11.30,11.30 0 0 0 611.89,430.75 Z" fill="#748c86"/><circle cx="602.10" cy="425.10" r="11.30" fill="url(#shade)"/>
<circle cx="601.55" cy="485.35" r="10.80" fill="#e84040"/><circle cx="601.55" cy="485.35" r="10.80" fill="url(#shadeTe)"/>
<line x1="612.51" y1="366.09" x2="649.28" y2="370.70" stroke="#555" stroke-width="0.9"/>
<line x1="611.41" y1="486.59" x2="648.18" y2="491.20" stroke="#555" stroke-width="0.9"/>
<line x1="659.51" y1="382.40" x2="659.14" y2="422.31" stroke="#555" stroke-width="0.9"/>
<line x1="658.96" y1="442.19" x2="658.59" y2="482.10" stroke="#555" stroke-width="0.9"/>
<circle cx="519.70" cy="371.30" r="10.80" fill="#e52828"/><circle cx="519.70" cy="371.30" r="10.80" fill="url(#shadeTe)"/>
<path d="M519.15,431.55 L519.15,420.25 A11.30,11.30 0 0 0 509.36,437.20 Z" fill="#b29d89"/><path d="M519.15,431.55 L528.94,437.20 A11.30,11.30 0 0 0 519.15,420.25 Z" fill="#e38b52"/><path d="M519.15,431.55 L509.36,437.20 A11.30,11.30 0 0 0 528.94,437.20 Z" fill="#617c75"/><circle cx="519.15" cy="431.55" r="11.30" fill="url(#shade)"/>
<circle cx="518.60" cy="491.80" r="10.80" fill="#e52828"/><circle cx="518.60" cy="491.80" r="10.80" fill="url(#shadeTe)"/>
<path d="M659.60,372.00 L659.60,360.70 A11.30,11.30 0 0 0 649.81,377.65 Z" fill="#b6a28e"/><path d="M659.60,372.00 L669.39,377.65 A11.30,11.30 0 0 0 659.60,360.70 Z" fill="#e4905a"/><path d="M659.60,372.00 L649.81,377.65 A11.30,11.30 0 0 0 669.39,377.65 Z" fill="#68827b"/><circle cx="659.60" cy="372.00" r="11.30" fill="url(#shade)"/>
<circle cx="659.05" cy="432.25" r="10.80" fill="#e63131"/><circle cx="659.05" cy="432.25" r="10.80" fill="url(#shadeTe)"/>
<path d="M658.50,492.50 L658.50,481.20 A11.30,11.30 0 0 0 648.71,498.15 Z" fill="#b6a28e"/><path d="M658.50,492.50 L668.29,498.15 A11.30,11.30 0 0 0 658.50,481.20 Z" fill="#e4905a"/><path d="M658.50,492.50 L648.71,498.15 A11.30,11.30 0 0 0 668.29,498.15 Z" fill="#68827b"/><circle cx="658.50" cy="492.50" r="11.30" fill="url(#shade)"/>
<line x1="502.91" y1="380.08" x2="510.90" y2="375.91" stroke="#555" stroke-width="0.9"/>
<line x1="501.81" y1="500.58" x2="509.80" y2="496.41" stroke="#555" stroke-width="0.9"/>
<line x1="642.40" y1="380.99" x2="650.39" y2="376.82" stroke="#555" stroke-width="0.9"/>
<line x1="641.30" y1="501.49" x2="649.29" y2="497.32" stroke="#555" stroke-width="0.9"/>
<path d="M576.65,378.45 L576.65,367.15 A11.30,11.30 0 0 0 566.86,384.10 Z" fill="#ac9680"/><path d="M576.65,378.45 L586.44,384.10 A11.30,11.30 0 0 0 576.65,367.15 Z" fill="#e18244"/><path d="M576.65,378.45 L566.86,384.10 A11.30,11.30 0 0 0 586.44,384.10 Z" fill="#54716a"/><circle cx="576.65" cy="378.45" r="11.30" fill="url(#shade)"/>
<circle cx="576.10" cy="438.70" r="10.80" fill="#e31919"/><circle cx="576.10" cy="438.70" r="10.80" fill="url(#shadeTe)"/>
<path d="M575.55,498.95 L575.55,487.65 A11.30,11.30 0 0 0 565.76,504.60 Z" fill="#ac9680"/><path d="M575.55,498.95 L585.34,504.60 A11.30,11.30 0 0 0 575.55,487.65 Z" fill="#e18244"/><path d="M575.55,498.95 L565.76,504.60 A11.30,11.30 0 0 0 585.34,504.60 Z" fill="#54716a"/><circle cx="575.55" cy="498.95" r="11.30" fill="url(#shade)"/>
<line x1="493.61" y1="395.30" x2="493.24" y2="435.21" stroke="#555" stroke-width="0.9"/>
<line x1="493.06" y1="455.09" x2="492.69" y2="495.00" stroke="#555" stroke-width="0.9"/>
<path d="M493.70,384.90 L493.70,373.60 A11.30,11.30 0 0 0 483.91,390.55 Z" fill="#a89079"/><path d="M493.70,384.90 L503.49,390.55 A11.30,11.30 0 0 0 493.70,373.60 Z" fill="#df7b3a"/><path d="M493.70,384.90 L483.91,390.55 A11.30,11.30 0 0 0 503.49,390.55 Z" fill="#4b6a62"/><circle cx="493.70" cy="384.90" r="11.30" fill="url(#shade)"/>
<circle cx="493.15" cy="445.15" r="10.80" fill="#e20e0e"/><circle cx="493.15" cy="445.15" r="10.80" fill="url(#shadeTe)"/>
<path d="M492.60,505.40 L492.60,494.10 A11.30,11.30 0 0 0 482.81,511.05 Z" fill="#a89079"/><path d="M492.60,505.40 L502.39,511.05 A11.30,11.30 0 0 0 492.60,494.10 Z" fill="#df7b3a"/><path d="M492.60,505.40 L482.81,511.05 A11.30,11.30 0 0 0 502.39,511.05 Z" fill="#4b6a62"/><circle cx="492.60" cy="505.40" r="11.30" fill="url(#shade)"/>
<circle cx="633.60" cy="385.60" r="10.80" fill="#e20e0e"/><circle cx="633.60" cy="385.60" r="10.80" fill="url(#shadeTe)"/>
<path d="M633.05,445.85 L633.05,434.55 A11.30,11.30 0 0 0 623.26,451.50 Z" fill="#a89079"/><path d="M633.05,445.85 L642.84,451.50 A11.30,11.30 0 0 0 633.05,434.55 Z" fill="#df7b3a"/><path d="M633.05,445.85 L623.26,451.50 A11.30,11.30 0 0 0 642.84,451.50 Z" fill="#4b6a62"/><circle cx="633.05" cy="445.85" r="11.30" fill="url(#shade)"/>
<circle cx="632.50" cy="506.10" r="10.80" fill="#e20e0e"/><circle cx="632.50" cy="506.10" r="10.80" fill="url(#shadeTe)"/>
<line x1="504.02" y1="386.20" x2="540.79" y2="390.81" stroke="#555" stroke-width="0.9"/>
<line x1="502.92" y1="506.70" x2="539.69" y2="511.31" stroke="#555" stroke-width="0.9"/>
<line x1="616.81" y1="394.38" x2="624.80" y2="390.21" stroke="#555" stroke-width="0.9"/>
<line x1="615.71" y1="514.88" x2="623.70" y2="510.71" stroke="#555" stroke-width="0.9"/>
<circle cx="550.65" cy="392.05" r="10.80" fill="#e20e0e"/><circle cx="550.65" cy="392.05" r="10.80" fill="url(#shadeTe)"/>
<path d="M550.10,452.30 L550.10,441.00 A11.30,11.30 0 0 0 540.31,457.95 Z" fill="#a89079"/><path d="M550.10,452.30 L559.89,457.95 A11.30,11.30 0 0 0 550.10,441.00 Z" fill="#df7b3a"/><path d="M550.10,452.30 L540.31,457.95 A11.30,11.30 0 0 0 559.89,457.95 Z" fill="#4b6a62"/><circle cx="550.10" cy="452.30" r="11.30" fill="url(#shade)"/>
<circle cx="549.55" cy="512.55" r="10.80" fill="#e20e0e"/><circle cx="549.55" cy="512.55" r="10.80" fill="url(#shadeTe)"/>
<line x1="560.51" y1="393.29" x2="597.28" y2="397.90" stroke="#555" stroke-width="0.9"/>
<line x1="559.41" y1="513.79" x2="596.18" y2="518.40" stroke="#555" stroke-width="0.9"/>
<line x1="607.51" y1="409.60" x2="607.14" y2="449.51" stroke="#555" stroke-width="0.9"/>
<line x1="606.96" y1="469.39" x2="606.59" y2="509.30" stroke="#555" stroke-width="0.9"/>
<path d="M607.60,399.20 L607.60,387.90 A11.30,11.30 0 0 0 597.81,404.85 Z" fill="#a89079"/><path d="M607.60,399.20 L617.39,404.85 A11.30,11.30 0 0 0 607.60,387.90 Z" fill="#df7b3a"/><path d="M607.60,399.20 L597.81,404.85 A11.30,11.30 0 0 0 617.39,404.85 Z" fill="#4b6a62"/><circle cx="607.60" cy="399.20" r="11.30" fill="url(#shade)"/>
<circle cx="607.05" cy="459.45" r="10.80" fill="#e20e0e"/><circle cx="607.05" cy="459.45" r="10.80" fill="url(#shadeTe)"/>
<path d="M606.50,519.70 L606.50,508.40 A11.30,11.30 0 0 0 596.71,525.35 Z" fill="#a89079"/><path d="M606.50,519.70 L616.29,525.35 A11.30,11.30 0 0 0 606.50,508.40 Z" fill="#df7b3a"/><path d="M606.50,519.70 L596.71,525.35 A11.30,11.30 0 0 0 616.29,525.35 Z" fill="#4b6a62"/><circle cx="606.50" cy="519.70" r="11.30" fill="url(#shade)"/>
<rect x="200.9" y="436" width="31.8" height="5.3" fill="#d46cc6"/>
<rect x="214.5" y="421.9" width="4.6" height="33.1" fill="#d46cc6"/>
<rect x="440.9" y="426.6" width="31.3" height="5.3" fill="#d46cc6"/>
<rect x="440.9" y="440" width="31.3" height="5.3" fill="#d46cc6"/>
<line x1="21.7" y1="539.3" x2="21.7" y2="522.3" stroke="#1414e6" stroke-width="2"/><path d="M18.9,523.3 L21.7,516.3 L24.5,523.3 Z" fill="#1414e6"/><line x1="21.7" y1="539.3" x2="38.80" y2="539.30" stroke="#14d214" stroke-width="2"/><path d="M37.80,542.10 L44.80,539.30 L37.80,536.50 Z" fill="#14d214"/><line x1="21.7" y1="539.3" x2="15.2" y2="541.6999999999999" stroke="#c00000" stroke-width="2"/><circle cx="14.5" cy="542.0" r="2.7" fill="#d00000"/><circle cx="21.7" cy="539.3" r="2.3" fill="#d0d0d0" stroke="#909090" stroke-width="0.6"/><text x="17.0" y="514.6" font-size="18.5">c</text><text x="44.6" y="544.8" font-size="18.5">b</text><text x="-0.6" y="549.5" font-size="18.5">a</text>
<line x1="230.3" y1="522.2" x2="230.3" y2="506.20000000000005" stroke="#1414e6" stroke-width="2"/><path d="M227.5,507.20000000000005 L230.3,500.20000000000005 L233.10000000000002,507.20000000000005 Z" fill="#1414e6"/><line x1="230.3" y1="522.2" x2="244.03" y2="523.66" stroke="#14d214" stroke-width="2"/><path d="M242.74,526.34 L250.00,524.30 L243.34,520.77 Z" fill="#14d214"/><line x1="230.3" y1="522.2" x2="223.8" y2="524.6" stroke="#c00000" stroke-width="2"/><circle cx="223.10000000000002" cy="524.9000000000001" r="2.7" fill="#d00000"/><circle cx="230.3" cy="522.2" r="2.3" fill="#d0d0d0" stroke="#909090" stroke-width="0.6"/><text x="224.1" y="498.6" font-size="18.5">c</text><text x="250.7" y="535.0" font-size="18.5">b</text><text x="209.0" y="535.0" font-size="18.5">a</text>
<line x1="469.0" y1="526.7" x2="469.0" y2="510.30000000000007" stroke="#1414e6" stroke-width="2"/><path d="M466.2,511.30000000000007 L469.0,504.30000000000007 L471.8,511.30000000000007 Z" fill="#1414e6"/><line x1="469.0" y1="526.7" x2="483.33" y2="528.15" stroke="#14d214" stroke-width="2"/><path d="M482.05,530.83 L489.30,528.75 L482.62,525.26 Z" fill="#14d214"/><line x1="469.0" y1="526.7" x2="462.5" y2="529.1" stroke="#c00000" stroke-width="2"/><circle cx="461.8" cy="529.4000000000001" r="2.7" fill="#d00000"/><circle cx="469.0" cy="526.7" r="2.3" fill="#d0d0d0" stroke="#909090" stroke-width="0.6"/><text x="462.2" y="503.6" font-size="18.5">c</text><text x="490.2" y="539.0" font-size="18.5">b</text><text x="447.6" y="539.0" font-size="18.5">a</text>
<text x="2.4" y="336.3" font-size="40">c</text>
<text id="cmnte" x="88.04" y="329.9" font-size="26.3" textLength="64.93" lengthAdjust="spacing" >MnTe</text>
<text id="cmn" x="8.10" y="394.9" font-size="26.3" textLength="36.37" lengthAdjust="spacing" fill="#a3886c">Mn</text>
<text id="cte" x="106.41" y="411.7" font-size="26" textLength="27.96" lengthAdjust="spacing" fill="#ff0a0a">Te</text>
<text id="chex" x="50.83" y="570.2" font-size="26.2" textLength="124.91" lengthAdjust="spacing" >Hexagonal</text>
<text id="clst" x="298.36" y="330.8" font-size="25.6" textLength="89.90" lengthAdjust="spacing" >LiSbTe<tspan font-size="17.8" dy="6.3">2</tspan></text>
<text id="cli" x="223.29" y="374.8" font-size="25.6" textLength="20.44" lengthAdjust="spacing" fill="#3c5f58">Li</text>
<text id="csb" x="262.59" y="407.8" font-size="25.8" textLength="32.92" lengthAdjust="spacing" fill="#e07337">Sb</text>
<text id="ccub1" x="310.45" y="561.4" font-size="26.4" textLength="68.42" lengthAdjust="spacing" >Cubic</text>
<text id="clmst" x="507.88" y="328.7" font-size="25.6" textLength="126.90" lengthAdjust="spacing" >LiMnSbTe<tspan font-size="17.8" dy="6.1">3</tspan></text>
<text id="ccub2" x="551.34" y="562" font-size="26.4" textLength="67.97" lengthAdjust="spacing" >Cubic</text>
</svg></body></html>
